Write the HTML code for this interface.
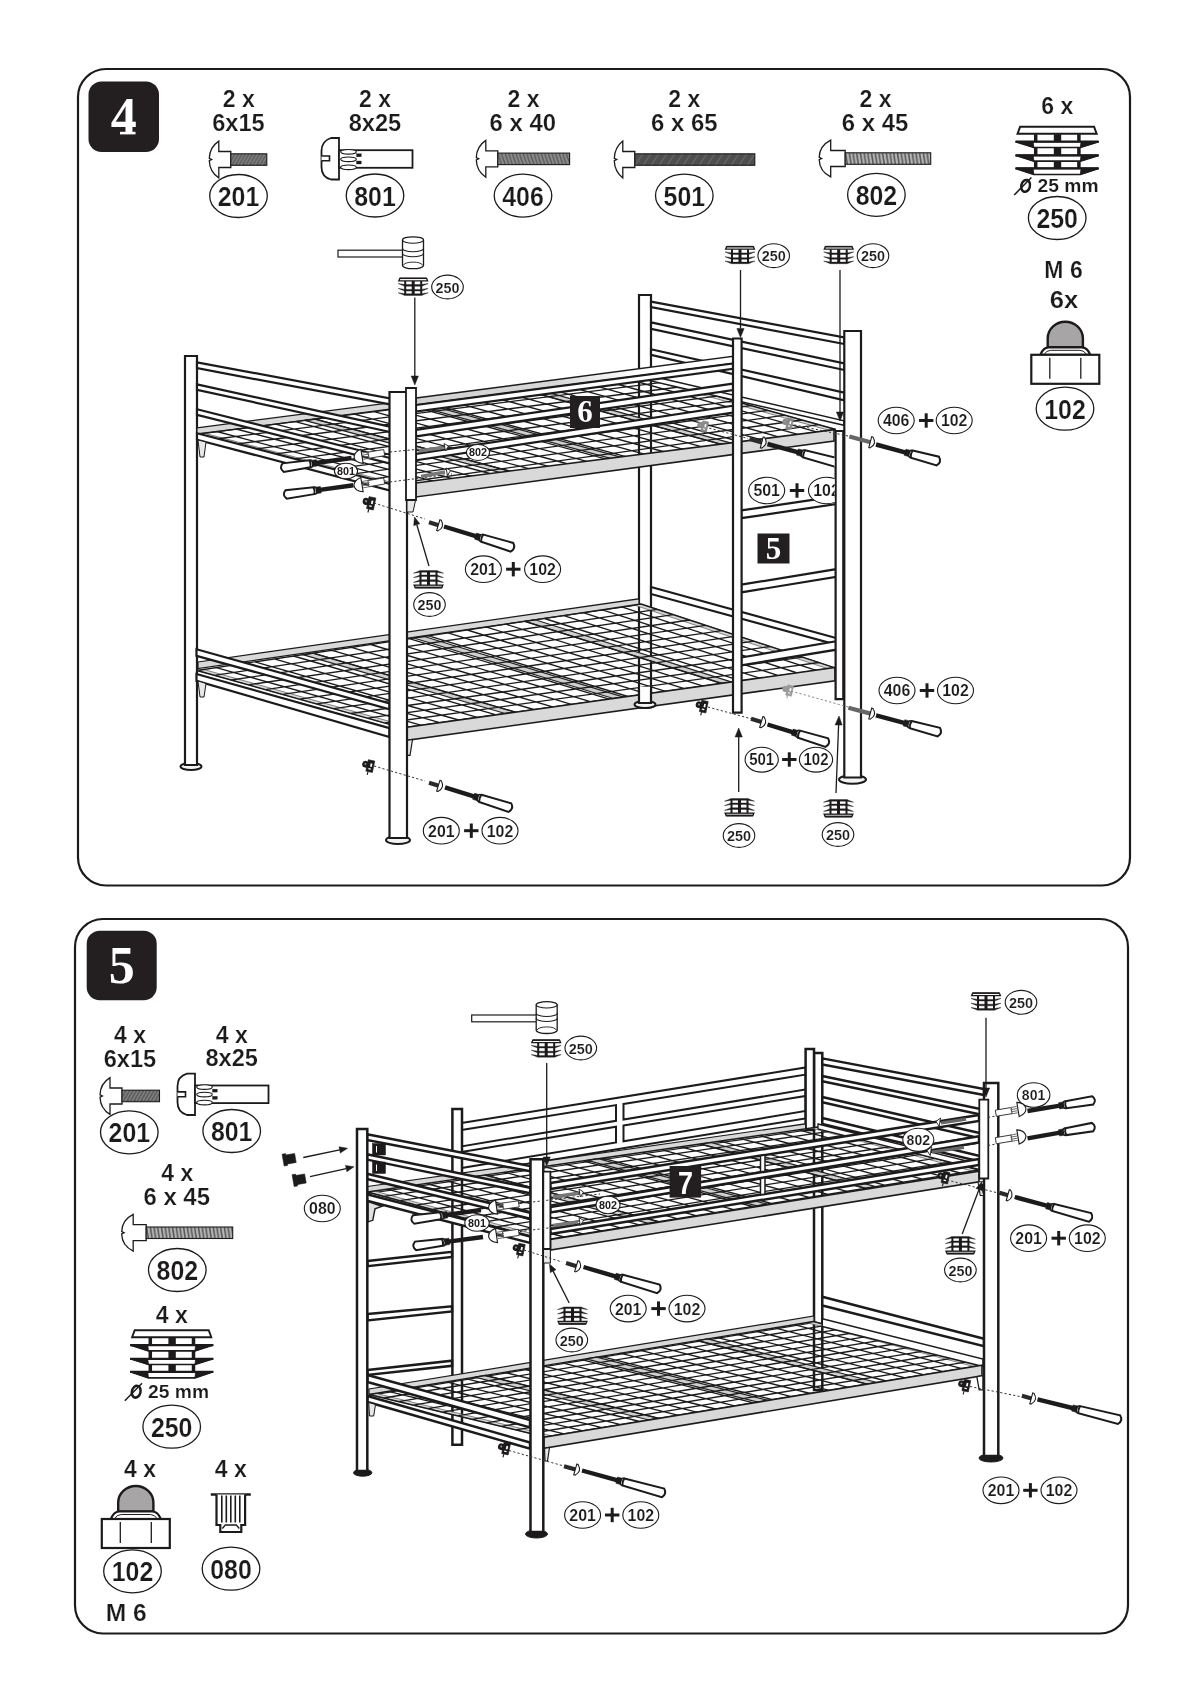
<!DOCTYPE html>
<html><head><meta charset="utf-8"><title>Assembly steps 4-5</title>
<style>html,body{margin:0;padding:0;background:#fff}svg{display:block;will-change:transform}</style>
</head><body>
<svg width="1200" height="1697" viewBox="0 0 1200 1697">
<rect width="1200" height="1697" fill="#fff"/>
<defs>
<pattern id="hatchA" width="7" height="12" patternUnits="userSpaceOnUse"><rect width="7" height="12" fill="#5e5e5e"/><path d="M-1 12L6 0M2.5 12L9.5 0M-4.5 12L2.5 0" stroke="#858585" stroke-width="1.2"/></pattern>
<pattern id="hatchB" width="7.2" height="12" patternUnits="userSpaceOnUse"><rect width="7.2" height="12" fill="#8a8a8a"/><path d="M0 0L4 12M3.6 0L7.6 12M-3.6 0L0.4 12" stroke="#555" stroke-width="1.2"/></pattern>
<pattern id="hatchC" width="16" height="12" patternUnits="userSpaceOnUse"><rect width="16" height="12" fill="#4e4e4e"/><path d="M0 12L8 0M8 12L16 0" stroke="#6a6a6a" stroke-width="1.2"/></pattern>
<pattern id="hatchD" width="3.7" height="12" patternUnits="userSpaceOnUse"><rect width="3.7" height="12" fill="#b4b4b4"/><path d="M0.4 0L2.2 12M4.1 0L5.9 12M-3.3 0L-1.5 12" stroke="#555" stroke-width="1.5"/></pattern>
</defs>
<rect x="78" y="69" width="1052" height="816.5" rx="28" fill="#fff" stroke="#1d1a1b" stroke-width="2.2" />
<rect x="88.5" y="81.5" width="70.5" height="70.5" rx="13" fill="#231f20" stroke="none" stroke-width="0" />
<text x="123.8" y="133.9" font-family="'Liberation Serif', sans-serif" font-size="52" font-weight="bold" text-anchor="middle" fill="#fff" >4</text>
<rect x="120" y="131.8" width="15.5" height="2.6" rx="0" fill="#fff" stroke="none" stroke-width="0" />
<text x="238.8" y="107.3" font-family="'Liberation Sans', sans-serif" font-size="23" font-weight="bold" text-anchor="middle" fill="#1d1a1b"  stroke="#fff" stroke-width="0.22">2 x</text>
<text x="238.5" y="131.3" font-family="'Liberation Sans', sans-serif" font-size="23" font-weight="bold" text-anchor="middle" fill="#1d1a1b" textLength="52.5" lengthAdjust="spacingAndGlyphs"  stroke="#fff" stroke-width="0.22">6x15</text>
<path d="M218.8 141.1 C212.8 145.1 209.5 150.5 209.3 158.3 l2.4 1.2 l-2.4 1.2 C209.5 168.5 212.8 173.9 218.8 177.9 L218.8 167.5 L230.8 167.5 L230.8 151.5 L218.8 151.5 Z" fill="#fff" stroke="#1d1a1b" stroke-width="1.3" stroke-linejoin="miter"/>
<g transform="translate(230.8 153.8)">
<rect x="0" y="0" width="36" height="11.5" rx="0" fill="url(#hatchA)" stroke="#1d1a1b" stroke-width="1.1" />
</g>
<ellipse cx="238.5" cy="196" rx="28.8" ry="21.5" fill="#fff" stroke="#1d1a1b" stroke-width="1.3" />
<text x="238.5" y="206" font-family="'Liberation Sans', sans-serif" font-size="28" font-weight="bold" text-anchor="middle" fill="#1d1a1b" textLength="41.5" lengthAdjust="spacingAndGlyphs"  stroke="#fff" stroke-width="0.22">201</text>
<text x="375" y="106.5" font-family="'Liberation Sans', sans-serif" font-size="23" font-weight="bold" text-anchor="middle" fill="#1d1a1b"  stroke="#fff" stroke-width="0.22">2 x</text>
<text x="375" y="130.5" font-family="'Liberation Sans', sans-serif" font-size="23" font-weight="bold" text-anchor="middle" fill="#1d1a1b" textLength="52.5" lengthAdjust="spacingAndGlyphs"  stroke="#fff" stroke-width="0.22">8x25</text>
<path d="M339 138 L331 138 Q321.5 141 321.5 151 L321.5 167 Q321.5 177 331 179.5 L339 179.5 Z" fill="#fff" stroke="#1d1a1b" stroke-width="1.8" />
<path d="M321.5 156 L329.5 156 L329.5 160.8 L321.5 160.8" fill="#fff" stroke="#1d1a1b" stroke-width="1.6" />
<rect x="339" y="150.2" width="73.5" height="17.6" rx="0" fill="#fff" stroke="#1d1a1b" stroke-width="1.8" />
<ellipse cx="348.5" cy="151.8" rx="7.8" ry="2.3" fill="#fff" stroke="#1d1a1b" stroke-width="1.1" />
<ellipse cx="348.5" cy="159.3" rx="7.8" ry="2.3" fill="#fff" stroke="#1d1a1b" stroke-width="1.1" />
<ellipse cx="348.5" cy="167.3" rx="7.8" ry="2.3" fill="#fff" stroke="#1d1a1b" stroke-width="1.1" />
<rect x="356.5" y="153.8" width="4.8" height="3" rx="0" fill="#1d1a1b" stroke="#1d1a1b" stroke-width="0.3" />
<rect x="356.5" y="161" width="4.8" height="3" rx="0" fill="#1d1a1b" stroke="#1d1a1b" stroke-width="0.3" />
<ellipse cx="375" cy="195.5" rx="28.8" ry="21.5" fill="#fff" stroke="#1d1a1b" stroke-width="1.3" />
<text x="375" y="205.5" font-family="'Liberation Sans', sans-serif" font-size="28" font-weight="bold" text-anchor="middle" fill="#1d1a1b" textLength="41.5" lengthAdjust="spacingAndGlyphs"  stroke="#fff" stroke-width="0.22">801</text>
<text x="523.6" y="106.5" font-family="'Liberation Sans', sans-serif" font-size="23" font-weight="bold" text-anchor="middle" fill="#1d1a1b"  stroke="#fff" stroke-width="0.22">2 x</text>
<text x="522.8" y="131" font-family="'Liberation Sans', sans-serif" font-size="23" font-weight="bold" text-anchor="middle" fill="#1d1a1b" textLength="66.5" lengthAdjust="spacingAndGlyphs"  stroke="#fff" stroke-width="0.22">6 x 40</text>
<path d="M485.8 140.4 C479.8 144.4 476.5 149.8 476.3 157.6 l2.4 1.2 l-2.4 1.2 C476.5 167.8 479.8 173.2 485.8 177.2 L485.8 166.8 L497.8 166.8 L497.8 150.8 L485.8 150.8 Z" fill="#fff" stroke="#1d1a1b" stroke-width="1.3" stroke-linejoin="miter"/>
<g transform="translate(497.8 153.1)">
<rect x="0" y="0" width="71.8" height="11.5" rx="0" fill="url(#hatchB)" stroke="#1d1a1b" stroke-width="1.1" />
</g>
<ellipse cx="523" cy="195.6" rx="28.8" ry="21.5" fill="#fff" stroke="#1d1a1b" stroke-width="1.3" />
<text x="523" y="205.6" font-family="'Liberation Sans', sans-serif" font-size="28" font-weight="bold" text-anchor="middle" fill="#1d1a1b" textLength="41.5" lengthAdjust="spacingAndGlyphs"  stroke="#fff" stroke-width="0.22">406</text>
<text x="684.3" y="106.5" font-family="'Liberation Sans', sans-serif" font-size="23" font-weight="bold" text-anchor="middle" fill="#1d1a1b"  stroke="#fff" stroke-width="0.22">2 x</text>
<text x="684.3" y="131" font-family="'Liberation Sans', sans-serif" font-size="23" font-weight="bold" text-anchor="middle" fill="#1d1a1b" textLength="66.5" lengthAdjust="spacingAndGlyphs"  stroke="#fff" stroke-width="0.22">6 x 65</text>
<path d="M622.8 141.1 C617.8 145.1 614.5 150.5 614.3 158.3 l2.4 1.2 l-2.4 1.2 C614.5 168.5 617.8 173.9 622.8 177.9 L622.8 167.5 L634.8 167.5 L634.8 151.5 L622.8 151.5 Z" fill="#fff" stroke="#1d1a1b" stroke-width="1.3" stroke-linejoin="miter"/>
<g transform="translate(634.8 153.8)">
<rect x="0" y="0" width="120" height="11.5" rx="0" fill="url(#hatchC)" stroke="#1d1a1b" stroke-width="1.1" />
</g>
<ellipse cx="684.3" cy="195.6" rx="28.8" ry="21.5" fill="#fff" stroke="#1d1a1b" stroke-width="1.3" />
<text x="684.3" y="205.6" font-family="'Liberation Sans', sans-serif" font-size="28" font-weight="bold" text-anchor="middle" fill="#1d1a1b" textLength="41.5" lengthAdjust="spacingAndGlyphs"  stroke="#fff" stroke-width="0.22">501</text>
<text x="875.6" y="106.8" font-family="'Liberation Sans', sans-serif" font-size="23" font-weight="bold" text-anchor="middle" fill="#1d1a1b"  stroke="#fff" stroke-width="0.22">2 x</text>
<text x="875" y="131" font-family="'Liberation Sans', sans-serif" font-size="23" font-weight="bold" text-anchor="middle" fill="#1d1a1b" textLength="66.5" lengthAdjust="spacingAndGlyphs"  stroke="#fff" stroke-width="0.22">6 x 45</text>
<path d="M830.7 140.1 C822.7 144.1 819.4 149.5 819.2 157.3 l2.4 1.2 l-2.4 1.2 C819.4 167.5 822.7 172.9 830.7 176.9 L830.7 166.5 L845.2 166.5 L845.2 150.5 L830.7 150.5 Z" fill="#fff" stroke="#1d1a1b" stroke-width="1.3" stroke-linejoin="miter"/>
<g transform="translate(845.2 152.8)">
<rect x="0" y="0" width="85.5" height="11.5" rx="0" fill="url(#hatchD)" stroke="#1d1a1b" stroke-width="1.1" />
</g>
<ellipse cx="876.4" cy="194.8" rx="28.8" ry="21.5" fill="#fff" stroke="#1d1a1b" stroke-width="1.3" />
<text x="876.4" y="204.8" font-family="'Liberation Sans', sans-serif" font-size="28" font-weight="bold" text-anchor="middle" fill="#1d1a1b" textLength="41.5" lengthAdjust="spacingAndGlyphs"  stroke="#fff" stroke-width="0.22">802</text>
<text x="1057.2" y="114" font-family="'Liberation Sans', sans-serif" font-size="23" font-weight="bold" text-anchor="middle" fill="#1d1a1b"  stroke="#fff" stroke-width="0.22">6 x</text>
<polygon points="1020.1,126.8 1094.1,126.8 1096.7,133.8 1017.5,133.8" fill="#fff" stroke="#1d1a1b" stroke-width="1.9" stroke-linejoin="miter" />
<line x1="1035.7" y1="134.2" x2="1035.7" y2="174.2" stroke="#1d1a1b" stroke-width="3.5" />
<line x1="1078.9" y1="134.2" x2="1078.9" y2="174.2" stroke="#1d1a1b" stroke-width="3.5" />
<line x1="1057.5" y1="134.2" x2="1057.5" y2="174.2" stroke="#1d1a1b" stroke-width="7.4" />
<polygon points="1015.6,141.7 1098.6,141.7 1080.3,147.5 1033.9,147.5" fill="#fff" stroke="#1d1a1b" stroke-width="1.6" stroke-linejoin="miter" />
<line x1="1015.6" y1="141.7" x2="1098.6" y2="141.7" stroke="#1d1a1b" stroke-width="2.2" />
<polygon points="1015.6,141.7 1033.1,141.7 1033.9,147.5" fill="#1d1a1b" stroke="#1d1a1b" stroke-width="0.8" stroke-linejoin="miter" />
<polygon points="1098.6,141.7 1081.1,141.7 1080.3,147.5" fill="#1d1a1b" stroke="#1d1a1b" stroke-width="0.8" stroke-linejoin="miter" />
<polygon points="1015.6,155.4 1098.6,155.4 1080.3,161.1 1033.9,161.1" fill="#fff" stroke="#1d1a1b" stroke-width="1.6" stroke-linejoin="miter" />
<line x1="1015.6" y1="155.4" x2="1098.6" y2="155.4" stroke="#1d1a1b" stroke-width="2.2" />
<polygon points="1015.6,155.4 1033.1,155.4 1033.9,161.1" fill="#1d1a1b" stroke="#1d1a1b" stroke-width="0.8" stroke-linejoin="miter" />
<polygon points="1098.6,155.4 1081.1,155.4 1080.3,161.1" fill="#1d1a1b" stroke="#1d1a1b" stroke-width="0.8" stroke-linejoin="miter" />
<polygon points="1015.6,168.4 1098.6,168.4 1080.3,174.5 1033.9,174.5" fill="#fff" stroke="#1d1a1b" stroke-width="1.6" stroke-linejoin="miter" />
<line x1="1015.6" y1="168.4" x2="1098.6" y2="168.4" stroke="#1d1a1b" stroke-width="2.2" />
<polygon points="1015.6,168.4 1033.1,168.4 1033.9,174.5" fill="#1d1a1b" stroke="#1d1a1b" stroke-width="0.8" stroke-linejoin="miter" />
<polygon points="1098.6,168.4 1081.1,168.4 1080.3,174.5" fill="#1d1a1b" stroke="#1d1a1b" stroke-width="0.8" stroke-linejoin="miter" />
<text x="1068" y="191.8" font-family="'Liberation Sans', sans-serif" font-size="17.8" font-weight="bold" text-anchor="middle" fill="#1d1a1b" textLength="61" lengthAdjust="spacingAndGlyphs"  stroke="#fff" stroke-width="0.15">25 mm</text>
<ellipse cx="1025.6" cy="185.9" rx="4.3" ry="6" fill="none" stroke="#1d1a1b" stroke-width="2.5" transform="rotate(14 1025.6 185.9)"/>
<line x1="1014.2" y1="195" x2="1031.4" y2="177.5" stroke="#1d1a1b" stroke-width="1.5" />
<ellipse cx="1057.2" cy="218" rx="28.8" ry="21.5" fill="#fff" stroke="#1d1a1b" stroke-width="1.3" />
<text x="1057.2" y="228" font-family="'Liberation Sans', sans-serif" font-size="28" font-weight="bold" text-anchor="middle" fill="#1d1a1b" textLength="41.5" lengthAdjust="spacingAndGlyphs"  stroke="#fff" stroke-width="0.22">250</text>
<text x="1063.5" y="277.5" font-family="'Liberation Sans', sans-serif" font-size="23" font-weight="bold" text-anchor="middle" fill="#1d1a1b"  stroke="#fff" stroke-width="0.22">M 6</text>
<text x="1064" y="307.5" font-family="'Liberation Sans', sans-serif" font-size="23" font-weight="bold" text-anchor="middle" fill="#1d1a1b" textLength="28.5" lengthAdjust="spacingAndGlyphs"  stroke="#fff" stroke-width="0.22">6x</text>
<path d="M1047.7 347.3 L1047.7 338.3 A17.6 16.5 0 0 1 1082.9 338.3 L1082.9 347.3 Z" fill="#a7a5a6" stroke="#1d1a1b" stroke-width="2.4" />
<path d="M1040.3 354.8 Q1043.3 347.3 1048.7 347.3 L1081.9 347.3 Q1087.3 347.3 1090.3 354.8 Z" fill="#fff" stroke="#1d1a1b" stroke-width="2.2" />
<path d="M1043.8 354.8 Q1046.3 350.3 1050.7 350.3 L1079.9 350.3 Q1084.3 350.3 1086.8 354.8" fill="none" stroke="#1d1a1b" stroke-width="1.0" />
<rect x="1031.3" y="354.8" width="68" height="29" rx="0" fill="#fff" stroke="#1d1a1b" stroke-width="2.2" />
<line x1="1049.8" y1="357.8" x2="1049.8" y2="378.8" stroke="#1d1a1b" stroke-width="1.3" />
<line x1="1080.8" y1="357.8" x2="1080.8" y2="378.8" stroke="#1d1a1b" stroke-width="1.3" />
<ellipse cx="1065" cy="408.7" rx="28.8" ry="21.5" fill="#fff" stroke="#1d1a1b" stroke-width="1.3" />
<text x="1065" y="418.7" font-family="'Liberation Sans', sans-serif" font-size="28" font-weight="bold" text-anchor="middle" fill="#1d1a1b" textLength="41.5" lengthAdjust="spacingAndGlyphs"  stroke="#fff" stroke-width="0.22">102</text>
<ellipse cx="645" cy="704.5" rx="10.5" ry="3.6" fill="#f4f4f4" stroke="#1d1a1b" stroke-width="2.0" />
<polygon points="639,703 639,295 651,295 651,703" fill="#fff" stroke="#1d1a1b" stroke-width="2.2" stroke-linejoin="miter" />
<polygon points="651,301.7 844.3,337.4 844.3,344 651,307.2" fill="#fff" stroke="#1d1a1b" stroke-width="2.2" stroke-linejoin="miter" />
<polygon points="651,322.3 844.3,363.4 844.3,370 651,328.8" fill="#fff" stroke="#1d1a1b" stroke-width="2.2" stroke-linejoin="miter" />
<polygon points="651,349.3 844.3,392.7 844.3,400.3 651,354.8" fill="#fff" stroke="#1d1a1b" stroke-width="2.2" stroke-linejoin="miter" />
<polygon points="651,587 836,638 836,644.5 651,594" fill="#fff" stroke="#1d1a1b" stroke-width="2.2" stroke-linejoin="miter" />
<ellipse cx="191" cy="766.5" rx="10.5" ry="3.6" fill="#f4f4f4" stroke="#1d1a1b" stroke-width="2.0" />
<polygon points="185,765 185,356 197,356 197,765" fill="#fff" stroke="#1d1a1b" stroke-width="2.2" stroke-linejoin="miter" />
<polygon points="197,427.8 639,370.6 639,376.6 197,434.3" fill="#d9d9d9" stroke="#1d1a1b" stroke-width="1.2" stroke-linejoin="miter" />
<g >
<polygon points="197,434 408,489.5 414.9,488.6 203.9,433.1" fill="#d6d6d6" stroke="#555" stroke-width="0.7" stroke-linejoin="miter" />
<polygon points="649,377 836,429.5 829.1,430.4 642.1,377.9" fill="#d6d6d6" stroke="#555" stroke-width="0.7" stroke-linejoin="miter" />
<polygon points="304.6,420.4 315.4,419.1 520.1,473.8 509.9,475.2" fill="#cfcfcf" stroke="#222" stroke-width="1.2" stroke-linejoin="miter" />
<polygon points="417.6,406.2 428.4,404.8 627.1,458.8 616.9,460.2" fill="#cfcfcf" stroke="#222" stroke-width="1.2" stroke-linejoin="miter" />
<polygon points="530.6,391.9 541.4,390.6 734.1,443.8 723.9,445.2" fill="#cfcfcf" stroke="#222" stroke-width="1.2" stroke-linejoin="miter" />
<path d="M197 434L408 489.5M216.7 431.5L426.6 486.9M236.3 429L445.2 484.3M256 426.6L463.8 481.7M275.6 424.1L482.4 479.1M295.3 421.6L501 476.5M314.9 419.1L519.7 473.8M334.6 416.7L538.3 471.2M354.2 414.2L556.9 468.6M373.9 411.7L575.5 466M393.5 409.2L594.1 463.4M413.2 406.7L612.7 460.8M432.8 404.3L631.3 458.2M452.5 401.8L649.9 455.6M472.1 399.3L668.5 453M491.8 396.8L687.1 450.4M511.4 394.3L705.7 447.8M531.1 391.9L724.3 445.2M550.7 389.4L743 442.5M570.4 386.9L761.6 439.9M590 384.4L780.2 437.3M609.7 382L798.8 434.7M629.3 379.5L817.4 432.1M649 377L836 429.5M197 434L649 377M216.2 439L666 381.8M235.4 444.1L683 386.5M254.5 449.1L700 391.3M273.7 454.2L717 396.1M292.9 459.2L734 400.9M312.1 464.3L751 405.6M331.3 469.3L768 410.4M350.5 474.4L785 415.2M369.6 479.4L802 420M388.8 484.5L819 424.7M408 489.5L836 429.5" fill="none" stroke="#1c1c1c" stroke-width="1.35" />
</g>
<polygon points="649,375.5 844,420.8 844,425.3 649,380.5" fill="#fff" stroke="#1d1a1b" stroke-width="1.4" stroke-linejoin="miter" />
<polygon points="197,431 240,425.5 408,479 408,489.5" fill="#d9d9d9" stroke="none" stroke-width="0" stroke-linejoin="miter" opacity="0"/>
<polygon points="198,662 639,598.8 639,604.8 198,668.5" fill="#d9d9d9" stroke="#1d1a1b" stroke-width="1.2" stroke-linejoin="miter" />
<g >
<polygon points="197,670.5 402,727.8 408.9,726.8 203.9,669.5" fill="#d6d6d6" stroke="#555" stroke-width="0.7" stroke-linejoin="miter" />
<polygon points="641,604 835,667.8 828.1,668.8 634.1,605" fill="#d6d6d6" stroke="#555" stroke-width="0.7" stroke-linejoin="miter" />
<polygon points="302.7,654.7 313.3,653.1 515.4,712.1 505.1,713.5" fill="#cfcfcf" stroke="#222" stroke-width="1.2" stroke-linejoin="miter" />
<polygon points="413.7,638 424.3,636.5 623.7,697.1 613.3,698.5" fill="#cfcfcf" stroke="#222" stroke-width="1.2" stroke-linejoin="miter" />
<polygon points="524.7,621.4 535.3,619.8 731.9,682.1 721.6,683.5" fill="#cfcfcf" stroke="#222" stroke-width="1.2" stroke-linejoin="miter" />
<path d="M197 670.5L402 727.8M216.3 667.6L420.8 725.2M235.6 664.7L439.7 722.6M254.9 661.8L458.5 720M274.2 658.9L477.3 717.4M293.5 656L496.1 714.8M312.8 653.2L515 712.1M332.1 650.3L533.8 709.5M351.4 647.4L552.6 706.9M370.7 644.5L571.4 704.3M390 641.6L590.3 701.7M409.3 638.7L609.1 699.1M428.7 635.8L627.9 696.5M448 632.9L646.7 693.9M467.3 630L665.6 691.3M486.6 627.1L684.4 688.7M505.9 624.2L703.2 686.1M525.2 621.3L722 683.5M544.5 618.5L740.9 680.8M563.8 615.6L759.7 678.2M583.1 612.7L778.5 675.6M602.4 609.8L797.3 673M621.7 606.9L816.2 670.4M641 604L835 667.8M197 670.5L641 604M214.1 675.3L657.2 609.3M231.2 680L673.3 614.6M248.2 684.8L689.5 620M265.3 689.6L705.7 625.3M282.4 694.4L721.8 630.6M299.5 699.1L738 635.9M316.6 703.9L754.2 641.2M333.7 708.7L770.3 646.5M350.8 713.5L786.5 651.8M367.8 718.2L802.7 657.2M384.9 723L818.8 662.5M402 727.8L835 667.8" fill="none" stroke="#1c1c1c" stroke-width="1.35" />
</g>
<polygon points="196.5,649.3 389.5,703.4 389.5,709.2 196.5,655.8" fill="#fff" stroke="#1d1a1b" stroke-width="2.2" stroke-linejoin="miter" />
<polygon points="196.5,674 389.5,728.2 389.5,737 196.5,680.8" fill="#fff" stroke="#1d1a1b" stroke-width="2.2" stroke-linejoin="miter" />
<polygon points="198,681 206,683.5 204,697 200,697" fill="#e8e8e8" stroke="#1d1a1b" stroke-width="1" stroke-linejoin="miter" />
<polygon points="407,727.3 835,667.5 835,680.8 407,740.3" fill="#d9d9d9" stroke="#1d1a1b" stroke-width="1.6" stroke-linejoin="miter" />
<polygon points="407,740.3 412.5,739.5 410,755.3 407.5,755.3" fill="#e8e8e8" stroke="#1d1a1b" stroke-width="1.2" stroke-linejoin="miter" />
<ellipse cx="645" cy="704.5" rx="10.5" ry="3.6" fill="#f4f4f4" stroke="#1d1a1b" stroke-width="2.0" />
<polygon points="639,703 639,688 651,688 651,703" fill="#fff" stroke="#1d1a1b" stroke-width="2.2" stroke-linejoin="miter" />
<line x1="640" y1="688" x2="650" y2="688" stroke="#fff" stroke-width="2.6" />
<polygon points="197,362.3 390,398.5 390,404.4 197,368.2" fill="#fff" stroke="#1d1a1b" stroke-width="2.2" stroke-linejoin="miter" />
<polygon points="197,384.4 390,426.7 390,432 197,389.8" fill="#fff" stroke="#1d1a1b" stroke-width="2.2" stroke-linejoin="miter" />
<polygon points="197,409.3 390,458 390,463.5 197,414.8" fill="#fff" stroke="#1d1a1b" stroke-width="2.2" stroke-linejoin="miter" />
<polygon points="197,433.2 390,484 390,490.6 197,439.7" fill="#fff" stroke="#1d1a1b" stroke-width="2.2" stroke-linejoin="miter" />
<polygon points="198,440 206,442 204,457 200,457" fill="#e8e8e8" stroke="#1d1a1b" stroke-width="1" stroke-linejoin="miter" />
<polygon points="416,483 834,429.7 834,441 416,497" fill="#d9d9d9" stroke="#1d1a1b" stroke-width="1.5" stroke-linejoin="miter" />
<defs><linearGradient id="gfade" x1="0" x2="1" y1="0" y2="0"><stop offset="0" stop-color="#d0d0d0"/><stop offset="0.45" stop-color="#d8d8d8"/><stop offset="0.7" stop-color="#fff"/></linearGradient></defs>
<polygon points="416,398.1 733,356.3 733,363.4 416,405" fill="url(#gfade)" stroke="#1d1a1b" stroke-width="1.5" stroke-linejoin="miter" />
<polygon points="416,405 733,363.4 733,368.8 416,411.5" fill="#fff" stroke="#1d1a1b" stroke-width="2.2" stroke-linejoin="miter" />
<polygon points="416,429.9 733,383.6 733,390 416,436.4" fill="#fff" stroke="#1d1a1b" stroke-width="2.2" stroke-linejoin="miter" />
<polygon points="416,453.8 733,405.7 733,412.6 416,460.3" fill="#fff" stroke="#1d1a1b" stroke-width="2.2" stroke-linejoin="miter" />
<ellipse cx="398" cy="840" rx="12" ry="4.1" fill="#f4f4f4" stroke="#1d1a1b" stroke-width="2.0" />
<polygon points="389.5,838 389.5,392 407,392 407,838" fill="#fff" stroke="#1d1a1b" stroke-width="2.2" stroke-linejoin="miter" />
<polygon points="406,500 406,388 416,388 416,500" fill="#fff" stroke="#1d1a1b" stroke-width="1.8" stroke-linejoin="miter" />
<polygon points="407,500.5 415.5,500.5 413,512 407,512" fill="#e8e8e8" stroke="#1d1a1b" stroke-width="1" stroke-linejoin="miter" />
<polygon points="741.2,510.4 836.3,496.3 836.3,504 741.2,518.2" fill="#fff" stroke="#1d1a1b" stroke-width="2.2" stroke-linejoin="miter" />
<polygon points="741.2,584.7 836.3,569.1 836.3,576.9 741.2,592.4" fill="#fff" stroke="#1d1a1b" stroke-width="2.2" stroke-linejoin="miter" />
<polygon points="741.2,657.5 836.3,641.2 836.3,649.7 741.2,665.3" fill="#fff" stroke="#1d1a1b" stroke-width="2.2" stroke-linejoin="miter" />
<polygon points="733,712.7 733,338.5 741.6,338.5 741.6,712.7" fill="#fff" stroke="#1d1a1b" stroke-width="2.2" stroke-linejoin="miter" />
<polygon points="835.6,699.2 835.6,431 843.3,431 843.3,699.2" fill="#fff" stroke="#1d1a1b" stroke-width="2.2" stroke-linejoin="miter" />
<ellipse cx="852.5" cy="779.5" rx="13.5" ry="4.3" fill="#f4f4f4" stroke="#1d1a1b" stroke-width="2.0" />
<polygon points="844.3,777.5 844.3,331 861,331 861,777.5" fill="#fff" stroke="#1d1a1b" stroke-width="2.2" stroke-linejoin="miter" />
<rect x="570" y="396" width="30" height="32" rx="0" fill="#231f20" stroke="none" stroke-width="0" />
<text x="585" y="422.2" font-family="'Liberation Serif', sans-serif" font-size="31" font-weight="bold" text-anchor="middle" fill="#fff" >6</text>
<rect x="757.5" y="533.5" width="32" height="30" rx="0" fill="#231f20" stroke="none" stroke-width="0" />
<text x="773.5" y="558.7" font-family="'Liberation Serif', sans-serif" font-size="31" font-weight="bold" text-anchor="middle" fill="#fff" >5</text>
<rect x="338" y="250.2" width="66" height="6.8" rx="0" fill="#fff" stroke="#1d1a1b" stroke-width="1.2" />
<path d="M402.5 240 L402.5 265.5 A10.5 3.2 0 0 0 423.5 265.5 L423.5 240 A10.5 3.2 0 0 0 402.5 240 Z" fill="#fff" stroke="#1d1a1b" stroke-width="1.3" />
<path d="M402.5 240 A10.5 3.2 0 0 0 423.5 240" fill="none" stroke="#1d1a1b" stroke-width="1.1" />
<path d="M402.5 248.5 A10.5 3.2 0 0 0 423.5 248.5" fill="none" stroke="#1d1a1b" stroke-width="1.1" />
<path d="M402.5 253.5 A10.5 3.2 0 0 0 423.5 253.5" fill="none" stroke="#1d1a1b" stroke-width="1.1" />
<path d="M403.5 265.3 A9.5 3.2 0 0 1 422.5 265.3" fill="none" stroke="#1d1a1b" stroke-width="0.9" />
<polygon points="399.8,278.4 426.6,278.4 427.6,280.9 398.8,280.9" fill="#fff" stroke="#1d1a1b" stroke-width="1.3" stroke-linejoin="miter" />
<line x1="399.8" y1="278.3" x2="426.6" y2="278.3" stroke="#1d1a1b" stroke-width="1.5" />
<line x1="405.2" y1="281" x2="405.2" y2="294.6" stroke="#1d1a1b" stroke-width="2.0" />
<line x1="421.2" y1="281" x2="421.2" y2="294.6" stroke="#1d1a1b" stroke-width="2.0" />
<line x1="413.2" y1="281" x2="413.2" y2="294.6" stroke="#1d1a1b" stroke-width="3.0" />
<path d="M398.2 283.6 Q402.2 284 404.7 284.6 L421.7 284.6 Q424.2 284 428.2 283.6 Q424.2 285.2 421.7 286.2 L404.7 286.2 Q402.2 285.2 398.2 283.6 Z" fill="#1d1a1b" stroke="#1d1a1b" stroke-width="0.4" />
<path d="M398.2 288.4 Q402.2 288.8 404.7 289.4 L421.7 289.4 Q424.2 288.8 428.2 288.4 Q424.2 290 421.7 291 L404.7 291 Q402.2 290 398.2 288.4 Z" fill="#1d1a1b" stroke="#1d1a1b" stroke-width="0.4" />
<path d="M398.2 292.8 Q402.2 293.2 404.7 293.8 L421.7 293.8 Q424.2 293.2 428.2 292.8 Q424.2 294.4 421.7 295.4 L404.7 295.4 Q402.2 294.4 398.2 292.8 Z" fill="#1d1a1b" stroke="#1d1a1b" stroke-width="0.4" />
<ellipse cx="447.5" cy="287" rx="15.8" ry="11.9" fill="#fff" stroke="#1d1a1b" stroke-width="1.1" />
<text x="447.5" y="292.5" font-family="'Liberation Sans', sans-serif" font-size="15.4" font-weight="bold" text-anchor="middle" fill="#1d1a1b" textLength="24" lengthAdjust="spacingAndGlyphs"  stroke="#fff" stroke-width="0.15">250</text>
<line x1="414.8" y1="297.5" x2="414.8" y2="376" stroke="#1d1a1b" stroke-width="1.3" />
<polygon points="414.8,385 411.2,376 418.4,376" fill="#1d1a1b" stroke="#1d1a1b" stroke-width="0.5" stroke-linejoin="miter" />
<polygon points="726.6,246.7 753.4,246.7 754.4,249.2 725.6,249.2" fill="#fff" stroke="#1d1a1b" stroke-width="1.3" stroke-linejoin="miter" />
<line x1="726.6" y1="246.6" x2="753.4" y2="246.6" stroke="#1d1a1b" stroke-width="1.5" />
<line x1="732" y1="249.3" x2="732" y2="262.9" stroke="#1d1a1b" stroke-width="2.0" />
<line x1="748" y1="249.3" x2="748" y2="262.9" stroke="#1d1a1b" stroke-width="2.0" />
<line x1="740" y1="249.3" x2="740" y2="262.9" stroke="#1d1a1b" stroke-width="3.0" />
<path d="M725 251.9 Q729 252.3 731.5 252.9 L748.5 252.9 Q751 252.3 755 251.9 Q751 253.5 748.5 254.5 L731.5 254.5 Q729 253.5 725 251.9 Z" fill="#1d1a1b" stroke="#1d1a1b" stroke-width="0.4" />
<path d="M725 256.7 Q729 257.1 731.5 257.7 L748.5 257.7 Q751 257.1 755 256.7 Q751 258.3 748.5 259.3 L731.5 259.3 Q729 258.3 725 256.7 Z" fill="#1d1a1b" stroke="#1d1a1b" stroke-width="0.4" />
<path d="M725 261.1 Q729 261.5 731.5 262.1 L748.5 262.1 Q751 261.5 755 261.1 Q751 262.7 748.5 263.7 L731.5 263.7 Q729 262.7 725 261.1 Z" fill="#1d1a1b" stroke="#1d1a1b" stroke-width="0.4" />
<ellipse cx="773.7" cy="255.7" rx="15.8" ry="11.9" fill="#fff" stroke="#1d1a1b" stroke-width="1.1" />
<text x="773.7" y="261.2" font-family="'Liberation Sans', sans-serif" font-size="15.4" font-weight="bold" text-anchor="middle" fill="#1d1a1b" textLength="24" lengthAdjust="spacingAndGlyphs"  stroke="#fff" stroke-width="0.15">250</text>
<line x1="740.5" y1="270" x2="740.5" y2="328.5" stroke="#1d1a1b" stroke-width="1.3" />
<polygon points="740.5,337.5 736.9,328.5 744.1,328.5" fill="#1d1a1b" stroke="#1d1a1b" stroke-width="0.5" stroke-linejoin="miter" />
<polygon points="825.3,246.7 852.1,246.7 853.1,249.2 824.3,249.2" fill="#fff" stroke="#1d1a1b" stroke-width="1.3" stroke-linejoin="miter" />
<line x1="825.3" y1="246.6" x2="852.1" y2="246.6" stroke="#1d1a1b" stroke-width="1.5" />
<line x1="830.7" y1="249.3" x2="830.7" y2="262.9" stroke="#1d1a1b" stroke-width="2.0" />
<line x1="846.7" y1="249.3" x2="846.7" y2="262.9" stroke="#1d1a1b" stroke-width="2.0" />
<line x1="838.7" y1="249.3" x2="838.7" y2="262.9" stroke="#1d1a1b" stroke-width="3.0" />
<path d="M823.7 251.9 Q827.7 252.3 830.2 252.9 L847.2 252.9 Q849.7 252.3 853.7 251.9 Q849.7 253.5 847.2 254.5 L830.2 254.5 Q827.7 253.5 823.7 251.9 Z" fill="#1d1a1b" stroke="#1d1a1b" stroke-width="0.4" />
<path d="M823.7 256.7 Q827.7 257.1 830.2 257.7 L847.2 257.7 Q849.7 257.1 853.7 256.7 Q849.7 258.3 847.2 259.3 L830.2 259.3 Q827.7 258.3 823.7 256.7 Z" fill="#1d1a1b" stroke="#1d1a1b" stroke-width="0.4" />
<path d="M823.7 261.1 Q827.7 261.5 830.2 262.1 L847.2 262.1 Q849.7 261.5 853.7 261.1 Q849.7 262.7 847.2 263.7 L830.2 263.7 Q827.7 262.7 823.7 261.1 Z" fill="#1d1a1b" stroke="#1d1a1b" stroke-width="0.4" />
<ellipse cx="873" cy="255.7" rx="15.8" ry="11.9" fill="#fff" stroke="#1d1a1b" stroke-width="1.1" />
<text x="873" y="261.2" font-family="'Liberation Sans', sans-serif" font-size="15.4" font-weight="bold" text-anchor="middle" fill="#1d1a1b" textLength="24" lengthAdjust="spacingAndGlyphs"  stroke="#fff" stroke-width="0.15">250</text>
<line x1="840" y1="270" x2="840" y2="412" stroke="#1d1a1b" stroke-width="1.3" />
<polygon points="840,421 836.4,412 843.6,412" fill="#1d1a1b" stroke="#1d1a1b" stroke-width="0.5" stroke-linejoin="miter" />
<ellipse cx="896.2" cy="420.5" rx="18" ry="13.3" fill="#fff" stroke="#1d1a1b" stroke-width="1.1" />
<text x="896.2" y="426.4" font-family="'Liberation Sans', sans-serif" font-size="16.7" font-weight="bold" text-anchor="middle" fill="#1d1a1b" textLength="26.5" lengthAdjust="spacingAndGlyphs"  stroke="#fff" stroke-width="0.15">406</text>
<line x1="919" y1="420.5" x2="933.4" y2="420.5" stroke="#1d1a1b" stroke-width="3" />
<line x1="926.2" y1="413.3" x2="926.2" y2="427.7" stroke="#1d1a1b" stroke-width="3" />
<ellipse cx="954.2" cy="420.5" rx="18" ry="13.3" fill="#fff" stroke="#1d1a1b" stroke-width="1.1" />
<text x="954.2" y="426.4" font-family="'Liberation Sans', sans-serif" font-size="16.7" font-weight="bold" text-anchor="middle" fill="#1d1a1b" textLength="26.5" lengthAdjust="spacingAndGlyphs"  stroke="#fff" stroke-width="0.15">102</text>
<line x1="790" y1="424" x2="848" y2="436" stroke="#333" stroke-width="1.0" stroke-dasharray="2.2 2.2"/>
<g transform="translate(788 423) rotate(12) scale(0.9)">
<circle cx="-3.1" cy="-0.6" r="3.4" fill="#8a8a8a"/>
<circle cx="-3.3" cy="-0.8" r="1.0" fill="#9a9a9a"/>
<rect x="-1.4" y="-5.6" width="6.6" height="11.6" rx="0" fill="#8a8a8a" stroke="#8a8a8a" stroke-width="0.6" />
<rect x="1.7" y="-2.6" width="1.7" height="3.3" rx="0" fill="#fff" stroke="none" stroke-width="0" />
<rect x="0.5" y="2.4" width="2.5" height="1.2" rx="0" fill="#fff" stroke="none" stroke-width="0" />
<line x1="0.8" y1="6" x2="0.6" y2="9.4" stroke="#8a8a8a" stroke-width="1.1" />
</g>
<g transform="translate(872 442.6) rotate(15)">
<line x1="-23.5" y1="0" x2="-1.5" y2="0" stroke="#666" stroke-width="4.2" />
<path d="M-1.8 -5.6 L-0.5 -5.6 Q5.5 0 -0.5 5.6 L-1.8 5.6 Z" fill="#fff" stroke="#1d1a1b" stroke-width="1.1" />
</g>
<g transform="translate(876 444.5) rotate(15)">
<line x1="0" y1="0" x2="31" y2="0" stroke="#1d1a1b" stroke-width="4.4" />
<rect x="30" y="-3.2" width="5.5" height="6.4" rx="0" fill="#1d1a1b" stroke="#1d1a1b" stroke-width="0.5" />
<ellipse cx="36" cy="0" rx="1.8" ry="3.6" fill="#fff" stroke="#1d1a1b" stroke-width="1.5" />
<path d="M37 -3.7 L64 -4.5 Q68.5 0 64 4.5 L37 3.7 Q35.5 0 37 -3.7 Z" fill="#fff" stroke="#1d1a1b" stroke-width="2" />
</g>
<clipPath id="c501"><rect x="700" y="460" width="134.7" height="60"/></clipPath>
<g clip-path="url(#c501)">
<ellipse cx="766.7" cy="490.5" rx="18" ry="13.3" fill="#fff" stroke="#1d1a1b" stroke-width="1.1" />
<text x="766.7" y="496.4" font-family="'Liberation Sans', sans-serif" font-size="16.7" font-weight="bold" text-anchor="middle" fill="#1d1a1b" textLength="26.5" lengthAdjust="spacingAndGlyphs"  stroke="#fff" stroke-width="0.15">501</text>
<line x1="789.8" y1="490.5" x2="804.2" y2="490.5" stroke="#1d1a1b" stroke-width="3" />
<line x1="797" y1="483.3" x2="797" y2="497.7" stroke="#1d1a1b" stroke-width="3" />
<ellipse cx="826.5" cy="490.5" rx="18" ry="13.3" fill="#fff" stroke="#1d1a1b" stroke-width="1.1" />
<text x="826.5" y="496.4" font-family="'Liberation Sans', sans-serif" font-size="16.7" font-weight="bold" text-anchor="middle" fill="#1d1a1b" textLength="26.5" lengthAdjust="spacingAndGlyphs"  stroke="#fff" stroke-width="0.15">102</text>
</g>
<line x1="705" y1="427" x2="748" y2="438.5" stroke="#333" stroke-width="1.0" stroke-dasharray="2.2 2.2"/>
<g transform="translate(703 426) rotate(12) scale(0.9)">
<circle cx="-3.1" cy="-0.6" r="3.4" fill="#8a8a8a"/>
<circle cx="-3.3" cy="-0.8" r="1.0" fill="#9a9a9a"/>
<rect x="-1.4" y="-5.6" width="6.6" height="11.6" rx="0" fill="#8a8a8a" stroke="#8a8a8a" stroke-width="0.6" />
<rect x="1.7" y="-2.6" width="1.7" height="3.3" rx="0" fill="#fff" stroke="none" stroke-width="0" />
<rect x="0.5" y="2.4" width="2.5" height="1.2" rx="0" fill="#fff" stroke="none" stroke-width="0" />
<line x1="0.8" y1="6" x2="0.6" y2="9.4" stroke="#8a8a8a" stroke-width="1.1" />
</g>
<g transform="translate(763.5 442.8) rotate(15)">
<line x1="-14.5" y1="0" x2="-1.5" y2="0" stroke="#2a2a2a" stroke-width="4.2" />
<path d="M-1.8 -5.6 L-0.5 -5.6 Q5.5 0 -0.5 5.6 L-1.8 5.6 Z" fill="#fff" stroke="#1d1a1b" stroke-width="1.1" />
</g>
<clipPath id="cdrv"><rect x="700" y="420" width="134.5" height="60"/></clipPath><g clip-path="url(#cdrv)">
<g transform="translate(767.5 444) rotate(15)">
<line x1="0" y1="0" x2="32" y2="0" stroke="#1d1a1b" stroke-width="4.4" />
<rect x="31" y="-3.2" width="5.5" height="6.4" rx="0" fill="#1d1a1b" stroke="#1d1a1b" stroke-width="0.5" />
<ellipse cx="37" cy="0" rx="1.8" ry="3.6" fill="#fff" stroke="#1d1a1b" stroke-width="1.5" />
<path d="M38 -3.7 L71 -4.5 Q75.5 0 71 4.5 L38 3.7 Q36.5 0 38 -3.7 Z" fill="#fff" stroke="#1d1a1b" stroke-width="2" />
</g>
</g>
<ellipse cx="346" cy="471" rx="11.6" ry="7.8" fill="#fff" stroke="#1d1a1b" stroke-width="1.1" />
<text x="346" y="474.7" font-family="'Liberation Sans', sans-serif" font-size="10.5" font-weight="bold" text-anchor="middle" fill="#1d1a1b" textLength="18" lengthAdjust="spacingAndGlyphs" >801</text>
<ellipse cx="478" cy="452.5" rx="11.6" ry="8" fill="#fff" stroke="#1d1a1b" stroke-width="1.1" />
<text x="478" y="456.2" font-family="'Liberation Sans', sans-serif" font-size="10.5" font-weight="bold" text-anchor="middle" fill="#1d1a1b" textLength="18" lengthAdjust="spacingAndGlyphs" >802</text>
<g transform="translate(351.5 458) rotate(172)">
<line x1="0" y1="0" x2="36" y2="0" stroke="#1d1a1b" stroke-width="4.4" />
<rect x="35" y="-3.2" width="5.5" height="6.4" rx="0" fill="#1d1a1b" stroke="#1d1a1b" stroke-width="0.5" />
<ellipse cx="41" cy="0" rx="1.8" ry="3.6" fill="#fff" stroke="#1d1a1b" stroke-width="1.5" />
<path d="M42 -3.5 L69 -4.3 Q73.5 0 69 4.3 L42 3.5 Q40.5 0 42 -3.5 Z" fill="#fff" stroke="#1d1a1b" stroke-width="2" />
</g>
<g transform="translate(353.5 485.3) rotate(172.3)">
<line x1="0" y1="0" x2="34" y2="0" stroke="#1d1a1b" stroke-width="4.4" />
<rect x="33" y="-3.2" width="5.5" height="6.4" rx="0" fill="#1d1a1b" stroke="#1d1a1b" stroke-width="0.5" />
<ellipse cx="39" cy="0" rx="1.8" ry="3.6" fill="#fff" stroke="#1d1a1b" stroke-width="1.5" />
<path d="M40 -3.5 L68 -4.3 Q72.5 0 68 4.3 L40 3.5 Q38.5 0 40 -3.5 Z" fill="#fff" stroke="#1d1a1b" stroke-width="2" />
</g>
<g transform="translate(362 456.3) rotate(-9.5)">
<rect x="6.5" y="-3.1" width="16" height="6.2" rx="0" fill="#fff" stroke="#333" stroke-width="0.9" />
<line x1="0.8" y1="-3.2" x2="7.5" y2="-3.2" stroke="#666" stroke-width="0.9" />
<line x1="0.8" y1="-1.1" x2="7.5" y2="-1.1" stroke="#666" stroke-width="0.9" />
<line x1="0.8" y1="1.1" x2="7.5" y2="1.1" stroke="#666" stroke-width="0.9" />
<line x1="0.8" y1="3.2" x2="7.5" y2="3.2" stroke="#666" stroke-width="0.9" />
<path d="M0 -7.2 Q-7.5 -5.4 -8 0 Q-7.5 5.4 0 7.2 Z" fill="#fff" stroke="#1d1a1b" stroke-width="1.1" />
</g>
<g transform="translate(362 484.7) rotate(-9.5)">
<rect x="6.5" y="-3.1" width="16" height="6.2" rx="0" fill="#fff" stroke="#333" stroke-width="0.9" />
<line x1="0.8" y1="-3.2" x2="7.5" y2="-3.2" stroke="#666" stroke-width="0.9" />
<line x1="0.8" y1="-1.1" x2="7.5" y2="-1.1" stroke="#666" stroke-width="0.9" />
<line x1="0.8" y1="1.1" x2="7.5" y2="1.1" stroke="#666" stroke-width="0.9" />
<line x1="0.8" y1="3.2" x2="7.5" y2="3.2" stroke="#666" stroke-width="0.9" />
<path d="M0 -7.2 Q-7.5 -5.4 -8 0 Q-7.5 5.4 0 7.2 Z" fill="#fff" stroke="#1d1a1b" stroke-width="1.1" />
</g>
<line x1="390" y1="452" x2="452" y2="446" stroke="#333" stroke-width="1.0" stroke-dasharray="2.2 2.2"/>
<line x1="390" y1="482" x2="452" y2="474" stroke="#333" stroke-width="1.0" stroke-dasharray="2.2 2.2"/>
<line x1="419" y1="451" x2="443" y2="447.5" stroke="#777" stroke-width="3.4" />
<line x1="421" y1="476.5" x2="445" y2="472" stroke="#777" stroke-width="3.4" />
<path d="M444 443.5 l4.5 2.5 l-3 5 Z" fill="#fff" stroke="#1d1a1b" stroke-width="0.9" />
<path d="M446 468 l4.5 2.5 l-3 5 Z" fill="#fff" stroke="#1d1a1b" stroke-width="0.9" />
<g transform="translate(369.3 502.7) rotate(12) scale(1.05)">
<circle cx="-3.1" cy="-0.6" r="3.4" fill="#1d1a1b"/>
<circle cx="-3.3" cy="-0.8" r="1.0" fill="#9a9a9a"/>
<rect x="-1.4" y="-5.6" width="6.6" height="11.6" rx="0" fill="#1d1a1b" stroke="#1d1a1b" stroke-width="0.6" />
<rect x="1.7" y="-2.6" width="1.7" height="3.3" rx="0" fill="#fff" stroke="none" stroke-width="0" />
<rect x="0.5" y="2.4" width="2.5" height="1.2" rx="0" fill="#fff" stroke="none" stroke-width="0" />
<line x1="0.8" y1="6" x2="0.6" y2="9.4" stroke="#1d1a1b" stroke-width="1.1" />
</g>
<line x1="374" y1="503" x2="425" y2="519" stroke="#333" stroke-width="1.0" stroke-dasharray="2.2 2.2"/>
<g transform="translate(440 525.6) rotate(17)">
<line x1="-11.5" y1="0" x2="-1.5" y2="0" stroke="#2a2a2a" stroke-width="4.2" />
<path d="M-1.8 -5.6 L-0.5 -5.6 Q5.5 0 -0.5 5.6 L-1.8 5.6 Z" fill="#fff" stroke="#1d1a1b" stroke-width="1.1" />
</g>
<g transform="translate(444 526.5) rotate(17)">
<line x1="0" y1="0" x2="34" y2="0" stroke="#1d1a1b" stroke-width="4.4" />
<rect x="33" y="-3.2" width="5.5" height="6.4" rx="0" fill="#1d1a1b" stroke="#1d1a1b" stroke-width="0.5" />
<ellipse cx="39" cy="0" rx="1.8" ry="3.6" fill="#fff" stroke="#1d1a1b" stroke-width="1.5" />
<path d="M40 -3.7 L71 -4.5 Q75.5 0 71 4.5 L40 3.7 Q38.5 0 40 -3.7 Z" fill="#fff" stroke="#1d1a1b" stroke-width="2" />
</g>
<ellipse cx="483.4" cy="569.2" rx="18" ry="13.3" fill="#fff" stroke="#1d1a1b" stroke-width="1.1" />
<text x="483.4" y="575.1" font-family="'Liberation Sans', sans-serif" font-size="16.7" font-weight="bold" text-anchor="middle" fill="#1d1a1b" textLength="26.5" lengthAdjust="spacingAndGlyphs"  stroke="#fff" stroke-width="0.15">201</text>
<line x1="506.1" y1="569.2" x2="520.5" y2="569.2" stroke="#1d1a1b" stroke-width="3" />
<line x1="513.3" y1="562" x2="513.3" y2="576.4" stroke="#1d1a1b" stroke-width="3" />
<ellipse cx="542.6" cy="569.2" rx="18" ry="13.3" fill="#fff" stroke="#1d1a1b" stroke-width="1.1" />
<text x="542.6" y="575.1" font-family="'Liberation Sans', sans-serif" font-size="16.7" font-weight="bold" text-anchor="middle" fill="#1d1a1b" textLength="26.5" lengthAdjust="spacingAndGlyphs"  stroke="#fff" stroke-width="0.15">102</text>
<g transform="translate(0 1159) scale(1 -1)">
<polygon points="415.1,571.4 441.9,571.4 442.9,573.9 414.1,573.9" fill="#a8a8a8" stroke="#1d1a1b" stroke-width="1.3" stroke-linejoin="miter" />
<line x1="415.1" y1="571.3" x2="441.9" y2="571.3" stroke="#1d1a1b" stroke-width="1.5" />
<line x1="420.5" y1="574" x2="420.5" y2="587.6" stroke="#1d1a1b" stroke-width="2.0" />
<line x1="436.5" y1="574" x2="436.5" y2="587.6" stroke="#1d1a1b" stroke-width="2.0" />
<line x1="428.5" y1="574" x2="428.5" y2="587.6" stroke="#1d1a1b" stroke-width="3.0" />
<path d="M413.5 576.6 Q417.5 577 420 577.6 L437 577.6 Q439.5 577 443.5 576.6 Q439.5 578.2 437 579.2 L420 579.2 Q417.5 578.2 413.5 576.6 Z" fill="#1d1a1b" stroke="#1d1a1b" stroke-width="0.4" />
<path d="M413.5 581.4 Q417.5 581.8 420 582.4 L437 582.4 Q439.5 581.8 443.5 581.4 Q439.5 583 437 584 L420 584 Q417.5 583 413.5 581.4 Z" fill="#1d1a1b" stroke="#1d1a1b" stroke-width="0.4" />
<path d="M413.5 585.8 Q417.5 586.2 420 586.8 L437 586.8 Q439.5 586.2 443.5 585.8 Q439.5 587.4 437 588.4 L420 588.4 Q417.5 587.4 413.5 585.8 Z" fill="#1d1a1b" stroke="#1d1a1b" stroke-width="0.4" />
</g>
<ellipse cx="429.5" cy="604.5" rx="15.8" ry="11.9" fill="#fff" stroke="#1d1a1b" stroke-width="1.1" />
<text x="429.5" y="610" font-family="'Liberation Sans', sans-serif" font-size="15.4" font-weight="bold" text-anchor="middle" fill="#1d1a1b" textLength="24" lengthAdjust="spacingAndGlyphs"  stroke="#fff" stroke-width="0.15">250</text>
<line x1="429" y1="566" x2="416.8" y2="524.7" stroke="#1d1a1b" stroke-width="1.3" />
<polygon points="414.5,517 419.8,523.8 413.7,525.6" fill="#1d1a1b" stroke="#1d1a1b" stroke-width="0.5" stroke-linejoin="miter" />
<g transform="translate(368.5 765.5) rotate(12) scale(1.0)">
<circle cx="-3.1" cy="-0.6" r="3.4" fill="#1d1a1b"/>
<circle cx="-3.3" cy="-0.8" r="1.0" fill="#9a9a9a"/>
<rect x="-1.4" y="-5.6" width="6.6" height="11.6" rx="0" fill="#1d1a1b" stroke="#1d1a1b" stroke-width="0.6" />
<rect x="1.7" y="-2.6" width="1.7" height="3.3" rx="0" fill="#fff" stroke="none" stroke-width="0" />
<rect x="0.5" y="2.4" width="2.5" height="1.2" rx="0" fill="#fff" stroke="none" stroke-width="0" />
<line x1="0.8" y1="6" x2="0.6" y2="9.4" stroke="#1d1a1b" stroke-width="1.1" />
</g>
<line x1="374" y1="766" x2="425" y2="781" stroke="#333" stroke-width="1.0" stroke-dasharray="2.2 2.2"/>
<g transform="translate(440 786.2) rotate(17)">
<line x1="-11.5" y1="0" x2="-1.5" y2="0" stroke="#2a2a2a" stroke-width="4.2" />
<path d="M-1.8 -5.6 L-0.5 -5.6 Q5.5 0 -0.5 5.6 L-1.8 5.6 Z" fill="#fff" stroke="#1d1a1b" stroke-width="1.1" />
</g>
<g transform="translate(445 787.3) rotate(17.4)">
<line x1="0" y1="0" x2="31" y2="0" stroke="#1d1a1b" stroke-width="4.4" />
<rect x="30" y="-3.2" width="5.5" height="6.4" rx="0" fill="#1d1a1b" stroke="#1d1a1b" stroke-width="0.5" />
<ellipse cx="36" cy="0" rx="1.8" ry="3.6" fill="#fff" stroke="#1d1a1b" stroke-width="1.5" />
<path d="M37 -3.7 L68 -4.5 Q72.5 0 68 4.5 L37 3.7 Q35.5 0 37 -3.7 Z" fill="#fff" stroke="#1d1a1b" stroke-width="2" />
</g>
<ellipse cx="441.3" cy="830.7" rx="18" ry="13.3" fill="#fff" stroke="#1d1a1b" stroke-width="1.1" />
<text x="441.3" y="836.6" font-family="'Liberation Sans', sans-serif" font-size="16.7" font-weight="bold" text-anchor="middle" fill="#1d1a1b" textLength="26.5" lengthAdjust="spacingAndGlyphs"  stroke="#fff" stroke-width="0.15">201</text>
<line x1="464.1" y1="830.7" x2="478.5" y2="830.7" stroke="#1d1a1b" stroke-width="3" />
<line x1="471.3" y1="823.5" x2="471.3" y2="837.9" stroke="#1d1a1b" stroke-width="3" />
<ellipse cx="500" cy="830.7" rx="18" ry="13.3" fill="#fff" stroke="#1d1a1b" stroke-width="1.1" />
<text x="500" y="836.6" font-family="'Liberation Sans', sans-serif" font-size="16.7" font-weight="bold" text-anchor="middle" fill="#1d1a1b" textLength="26.5" lengthAdjust="spacingAndGlyphs"  stroke="#fff" stroke-width="0.15">102</text>
<g transform="translate(702 706) rotate(12) scale(1.0)">
<circle cx="-3.1" cy="-0.6" r="3.4" fill="#1d1a1b"/>
<circle cx="-3.3" cy="-0.8" r="1.0" fill="#9a9a9a"/>
<rect x="-1.4" y="-5.6" width="6.6" height="11.6" rx="0" fill="#1d1a1b" stroke="#1d1a1b" stroke-width="0.6" />
<rect x="1.7" y="-2.6" width="1.7" height="3.3" rx="0" fill="#fff" stroke="none" stroke-width="0" />
<rect x="0.5" y="2.4" width="2.5" height="1.2" rx="0" fill="#fff" stroke="none" stroke-width="0" />
<line x1="0.8" y1="6" x2="0.6" y2="9.4" stroke="#1d1a1b" stroke-width="1.1" />
</g>
<line x1="708" y1="707" x2="752" y2="719" stroke="#333" stroke-width="1.0" stroke-dasharray="2.2 2.2"/>
<g transform="translate(763 722.5) rotate(17)">
<line x1="-12.5" y1="0" x2="-1.5" y2="0" stroke="#2a2a2a" stroke-width="4.2" />
<path d="M-1.8 -5.6 L-0.5 -5.6 Q5.5 0 -0.5 5.6 L-1.8 5.6 Z" fill="#fff" stroke="#1d1a1b" stroke-width="1.1" />
</g>
<g transform="translate(767.5 724.5) rotate(17)">
<line x1="0" y1="0" x2="27" y2="0" stroke="#1d1a1b" stroke-width="4.4" />
<rect x="26" y="-3.2" width="5.5" height="6.4" rx="0" fill="#1d1a1b" stroke="#1d1a1b" stroke-width="0.5" />
<ellipse cx="32" cy="0" rx="1.8" ry="3.6" fill="#fff" stroke="#1d1a1b" stroke-width="1.5" />
<path d="M33 -3.7 L62 -4.5 Q66.5 0 62 4.5 L33 3.7 Q31.5 0 33 -3.7 Z" fill="#fff" stroke="#1d1a1b" stroke-width="2" />
</g>
<ellipse cx="761.7" cy="759.7" rx="16.6" ry="12.4" fill="#fff" stroke="#1d1a1b" stroke-width="1.1" />
<text x="761.7" y="765.3" font-family="'Liberation Sans', sans-serif" font-size="16" font-weight="bold" text-anchor="middle" fill="#1d1a1b" textLength="25" lengthAdjust="spacingAndGlyphs"  stroke="#fff" stroke-width="0.15">501</text>
<line x1="782.1" y1="759.5" x2="796.5" y2="759.5" stroke="#1d1a1b" stroke-width="3" />
<line x1="789.3" y1="752.3" x2="789.3" y2="766.7" stroke="#1d1a1b" stroke-width="3" />
<ellipse cx="816" cy="759.7" rx="16.6" ry="12.4" fill="#fff" stroke="#1d1a1b" stroke-width="1.1" />
<text x="816" y="765.3" font-family="'Liberation Sans', sans-serif" font-size="16" font-weight="bold" text-anchor="middle" fill="#1d1a1b" textLength="25" lengthAdjust="spacingAndGlyphs"  stroke="#fff" stroke-width="0.15">102</text>
<line x1="791" y1="691" x2="848" y2="707" stroke="#888" stroke-width="1.0" stroke-dasharray="2.2 2.2"/>
<g transform="translate(788 690) rotate(12) scale(0.9)">
<circle cx="-3.1" cy="-0.6" r="3.4" fill="#9a9a9a"/>
<circle cx="-3.3" cy="-0.8" r="1.0" fill="#9a9a9a"/>
<rect x="-1.4" y="-5.6" width="6.6" height="11.6" rx="0" fill="#9a9a9a" stroke="#9a9a9a" stroke-width="0.6" />
<rect x="1.7" y="-2.6" width="1.7" height="3.3" rx="0" fill="#fff" stroke="none" stroke-width="0" />
<rect x="0.5" y="2.4" width="2.5" height="1.2" rx="0" fill="#fff" stroke="none" stroke-width="0" />
<line x1="0.8" y1="6" x2="0.6" y2="9.4" stroke="#9a9a9a" stroke-width="1.1" />
</g>
<g transform="translate(872 714) rotate(15)">
<line x1="-24.5" y1="0" x2="-1.5" y2="0" stroke="#666" stroke-width="4.2" />
<path d="M-1.8 -5.6 L-0.5 -5.6 Q5.5 0 -0.5 5.6 L-1.8 5.6 Z" fill="#fff" stroke="#1d1a1b" stroke-width="1.1" />
</g>
<g transform="translate(876 715.3) rotate(15)">
<line x1="0" y1="0" x2="30" y2="0" stroke="#1d1a1b" stroke-width="4.4" />
<rect x="29" y="-3.2" width="5.5" height="6.4" rx="0" fill="#1d1a1b" stroke="#1d1a1b" stroke-width="0.5" />
<ellipse cx="35" cy="0" rx="1.8" ry="3.6" fill="#fff" stroke="#1d1a1b" stroke-width="1.5" />
<path d="M36 -3.7 L65 -4.5 Q69.5 0 65 4.5 L36 3.7 Q34.5 0 36 -3.7 Z" fill="#fff" stroke="#1d1a1b" stroke-width="2" />
</g>
<ellipse cx="897" cy="690.5" rx="18" ry="13.3" fill="#fff" stroke="#1d1a1b" stroke-width="1.1" />
<text x="897" y="696.4" font-family="'Liberation Sans', sans-serif" font-size="16.7" font-weight="bold" text-anchor="middle" fill="#1d1a1b" textLength="26.5" lengthAdjust="spacingAndGlyphs"  stroke="#fff" stroke-width="0.15">406</text>
<line x1="919.8" y1="690.5" x2="934.2" y2="690.5" stroke="#1d1a1b" stroke-width="3" />
<line x1="927" y1="683.3" x2="927" y2="697.7" stroke="#1d1a1b" stroke-width="3" />
<ellipse cx="955.5" cy="690.5" rx="18" ry="13.3" fill="#fff" stroke="#1d1a1b" stroke-width="1.1" />
<text x="955.5" y="696.4" font-family="'Liberation Sans', sans-serif" font-size="16.7" font-weight="bold" text-anchor="middle" fill="#1d1a1b" textLength="26.5" lengthAdjust="spacingAndGlyphs"  stroke="#fff" stroke-width="0.15">102</text>
<g transform="translate(0 1615) scale(1 -1)">
<polygon points="726.1,799.4 752.9,799.4 753.9,801.9 725.1,801.9" fill="#a8a8a8" stroke="#1d1a1b" stroke-width="1.3" stroke-linejoin="miter" />
<line x1="726.1" y1="799.3" x2="752.9" y2="799.3" stroke="#1d1a1b" stroke-width="1.5" />
<line x1="731.5" y1="802" x2="731.5" y2="815.6" stroke="#1d1a1b" stroke-width="2.0" />
<line x1="747.5" y1="802" x2="747.5" y2="815.6" stroke="#1d1a1b" stroke-width="2.0" />
<line x1="739.5" y1="802" x2="739.5" y2="815.6" stroke="#1d1a1b" stroke-width="3.0" />
<path d="M724.5 804.6 Q728.5 805 731 805.6 L748 805.6 Q750.5 805 754.5 804.6 Q750.5 806.2 748 807.2 L731 807.2 Q728.5 806.2 724.5 804.6 Z" fill="#1d1a1b" stroke="#1d1a1b" stroke-width="0.4" />
<path d="M724.5 809.4 Q728.5 809.8 731 810.4 L748 810.4 Q750.5 809.8 754.5 809.4 Q750.5 811 748 812 L731 812 Q728.5 811 724.5 809.4 Z" fill="#1d1a1b" stroke="#1d1a1b" stroke-width="0.4" />
<path d="M724.5 813.8 Q728.5 814.2 731 814.8 L748 814.8 Q750.5 814.2 754.5 813.8 Q750.5 815.4 748 816.4 L731 816.4 Q728.5 815.4 724.5 813.8 Z" fill="#1d1a1b" stroke="#1d1a1b" stroke-width="0.4" />
</g>
<ellipse cx="739" cy="835.5" rx="15.8" ry="11.9" fill="#fff" stroke="#1d1a1b" stroke-width="1.1" />
<text x="739" y="841" font-family="'Liberation Sans', sans-serif" font-size="15.4" font-weight="bold" text-anchor="middle" fill="#1d1a1b" textLength="24" lengthAdjust="spacingAndGlyphs"  stroke="#fff" stroke-width="0.15">250</text>
<line x1="738.7" y1="792" x2="738.7" y2="737" stroke="#1d1a1b" stroke-width="1.3" />
<polygon points="738.7,728 742.3,737 735.1,737" fill="#1d1a1b" stroke="#1d1a1b" stroke-width="0.5" stroke-linejoin="miter" />
<g transform="translate(0 1617) scale(1 -1)">
<polygon points="825.1,800.4 851.9,800.4 852.9,802.9 824.1,802.9" fill="#a8a8a8" stroke="#1d1a1b" stroke-width="1.3" stroke-linejoin="miter" />
<line x1="825.1" y1="800.3" x2="851.9" y2="800.3" stroke="#1d1a1b" stroke-width="1.5" />
<line x1="830.5" y1="803" x2="830.5" y2="816.6" stroke="#1d1a1b" stroke-width="2.0" />
<line x1="846.5" y1="803" x2="846.5" y2="816.6" stroke="#1d1a1b" stroke-width="2.0" />
<line x1="838.5" y1="803" x2="838.5" y2="816.6" stroke="#1d1a1b" stroke-width="3.0" />
<path d="M823.5 805.6 Q827.5 806 830 806.6 L847 806.6 Q849.5 806 853.5 805.6 Q849.5 807.2 847 808.2 L830 808.2 Q827.5 807.2 823.5 805.6 Z" fill="#1d1a1b" stroke="#1d1a1b" stroke-width="0.4" />
<path d="M823.5 810.4 Q827.5 810.8 830 811.4 L847 811.4 Q849.5 810.8 853.5 810.4 Q849.5 812 847 813 L830 813 Q827.5 812 823.5 810.4 Z" fill="#1d1a1b" stroke="#1d1a1b" stroke-width="0.4" />
<path d="M823.5 814.8 Q827.5 815.2 830 815.8 L847 815.8 Q849.5 815.2 853.5 814.8 Q849.5 816.4 847 817.4 L830 817.4 Q827.5 816.4 823.5 814.8 Z" fill="#1d1a1b" stroke="#1d1a1b" stroke-width="0.4" />
</g>
<ellipse cx="838" cy="834.5" rx="15.8" ry="11.9" fill="#fff" stroke="#1d1a1b" stroke-width="1.1" />
<text x="838" y="840" font-family="'Liberation Sans', sans-serif" font-size="15.4" font-weight="bold" text-anchor="middle" fill="#1d1a1b" textLength="24" lengthAdjust="spacingAndGlyphs"  stroke="#fff" stroke-width="0.15">250</text>
<line x1="836" y1="793" x2="838.6" y2="725" stroke="#1d1a1b" stroke-width="1.3" />
<polygon points="839,716 842.2,725.1 835.1,724.9" fill="#1d1a1b" stroke="#1d1a1b" stroke-width="0.5" stroke-linejoin="miter" />
<rect x="75" y="919" width="1053" height="714.5" rx="28" fill="#fff" stroke="#1d1a1b" stroke-width="2.2" />
<rect x="86.7" y="930.7" width="70" height="69.5" rx="13" fill="#231f20" stroke="none" stroke-width="0" />
<text x="121.7" y="982.6" font-family="'Liberation Serif', sans-serif" font-size="52" font-weight="bold" text-anchor="middle" fill="#fff" >5</text>
<text x="130" y="1043.3" font-family="'Liberation Sans', sans-serif" font-size="23" font-weight="bold" text-anchor="middle" fill="#1d1a1b"  stroke="#fff" stroke-width="0.22">4 x</text>
<text x="130" y="1066.7" font-family="'Liberation Sans', sans-serif" font-size="23" font-weight="bold" text-anchor="middle" fill="#1d1a1b" textLength="52.5" lengthAdjust="spacingAndGlyphs"  stroke="#fff" stroke-width="0.22">6x15</text>
<path d="M110 1077.6 C103.5 1081.6 100.2 1087 100 1094.8 l2.4 1.2 l-2.4 1.2 C100.2 1105 103.5 1110.4 110 1114.4 L110 1104 L122 1104 L122 1088 L110 1088 Z" fill="#fff" stroke="#1d1a1b" stroke-width="1.3" stroke-linejoin="miter"/>
<g transform="translate(122 1090.2)">
<rect x="0" y="0" width="37.5" height="11.5" rx="0" fill="url(#hatchA)" stroke="#1d1a1b" stroke-width="1.1" />
</g>
<ellipse cx="129.3" cy="1132.3" rx="28.8" ry="21.5" fill="#fff" stroke="#1d1a1b" stroke-width="1.3" />
<text x="129.3" y="1142.3" font-family="'Liberation Sans', sans-serif" font-size="28" font-weight="bold" text-anchor="middle" fill="#1d1a1b" textLength="41.5" lengthAdjust="spacingAndGlyphs"  stroke="#fff" stroke-width="0.22">201</text>
<text x="231.7" y="1043" font-family="'Liberation Sans', sans-serif" font-size="23" font-weight="bold" text-anchor="middle" fill="#1d1a1b"  stroke="#fff" stroke-width="0.22">4 x</text>
<text x="231.7" y="1066.2" font-family="'Liberation Sans', sans-serif" font-size="23" font-weight="bold" text-anchor="middle" fill="#1d1a1b" textLength="52.5" lengthAdjust="spacingAndGlyphs"  stroke="#fff" stroke-width="0.22">8x25</text>
<path d="M195 1073.6 L187 1073.6 Q177.5 1076.3 177.5 1086.3 L177.5 1102.3 Q177.5 1112.3 187 1115 L195 1115 Z" fill="#fff" stroke="#1d1a1b" stroke-width="1.8" />
<path d="M177.5 1091.9 L185.5 1091.9 L185.5 1096.7 L177.5 1096.7" fill="#fff" stroke="#1d1a1b" stroke-width="1.6" />
<rect x="195" y="1085.5" width="73.5" height="17.6" rx="0" fill="#fff" stroke="#1d1a1b" stroke-width="1.8" />
<ellipse cx="204.5" cy="1087.1" rx="7.8" ry="2.3" fill="#fff" stroke="#1d1a1b" stroke-width="1.1" />
<ellipse cx="204.5" cy="1094.6" rx="7.8" ry="2.3" fill="#fff" stroke="#1d1a1b" stroke-width="1.1" />
<ellipse cx="204.5" cy="1102.6" rx="7.8" ry="2.3" fill="#fff" stroke="#1d1a1b" stroke-width="1.1" />
<rect x="212.5" y="1089.1" width="4.8" height="3" rx="0" fill="#1d1a1b" stroke="#1d1a1b" stroke-width="0.3" />
<rect x="212.5" y="1096.3" width="4.8" height="3" rx="0" fill="#1d1a1b" stroke="#1d1a1b" stroke-width="0.3" />
<ellipse cx="231.7" cy="1131" rx="28.8" ry="21.5" fill="#fff" stroke="#1d1a1b" stroke-width="1.3" />
<text x="231.7" y="1141" font-family="'Liberation Sans', sans-serif" font-size="28" font-weight="bold" text-anchor="middle" fill="#1d1a1b" textLength="41.5" lengthAdjust="spacingAndGlyphs"  stroke="#fff" stroke-width="0.22">801</text>
<text x="177.3" y="1181" font-family="'Liberation Sans', sans-serif" font-size="23" font-weight="bold" text-anchor="middle" fill="#1d1a1b"  stroke="#fff" stroke-width="0.22">4 x</text>
<text x="176.7" y="1205" font-family="'Liberation Sans', sans-serif" font-size="23" font-weight="bold" text-anchor="middle" fill="#1d1a1b" textLength="66.5" lengthAdjust="spacingAndGlyphs"  stroke="#fff" stroke-width="0.22">6 x 45</text>
<path d="M133.2 1214.3 C125.2 1218.3 121.9 1223.7 121.7 1231.5 l2.4 1.2 l-2.4 1.2 C121.9 1241.7 125.2 1247.1 133.2 1251.1 L133.2 1240.7 L146.2 1240.7 L146.2 1224.7 L133.2 1224.7 Z" fill="#fff" stroke="#1d1a1b" stroke-width="1.3" stroke-linejoin="miter"/>
<g transform="translate(146.2 1227)">
<rect x="0" y="0" width="86.5" height="11.5" rx="0" fill="url(#hatchD)" stroke="#1d1a1b" stroke-width="1.1" />
</g>
<ellipse cx="177.3" cy="1270" rx="28.8" ry="21.5" fill="#fff" stroke="#1d1a1b" stroke-width="1.3" />
<text x="177.3" y="1280" font-family="'Liberation Sans', sans-serif" font-size="28" font-weight="bold" text-anchor="middle" fill="#1d1a1b" textLength="41.5" lengthAdjust="spacingAndGlyphs"  stroke="#fff" stroke-width="0.22">802</text>
<text x="171.7" y="1323.3" font-family="'Liberation Sans', sans-serif" font-size="23" font-weight="bold" text-anchor="middle" fill="#1d1a1b"  stroke="#fff" stroke-width="0.22">4 x</text>
<polygon points="134.7,1330.2 208.7,1330.2 211.3,1337.2 132.1,1337.2" fill="#fff" stroke="#1d1a1b" stroke-width="1.9" stroke-linejoin="miter" />
<line x1="150.3" y1="1337.6" x2="150.3" y2="1377.6" stroke="#1d1a1b" stroke-width="3.5" />
<line x1="193.5" y1="1337.6" x2="193.5" y2="1377.6" stroke="#1d1a1b" stroke-width="3.5" />
<line x1="172.1" y1="1337.6" x2="172.1" y2="1377.6" stroke="#1d1a1b" stroke-width="7.4" />
<polygon points="130.2,1345.1 213.2,1345.1 194.9,1350.9 148.5,1350.9" fill="#fff" stroke="#1d1a1b" stroke-width="1.6" stroke-linejoin="miter" />
<line x1="130.2" y1="1345.1" x2="213.2" y2="1345.1" stroke="#1d1a1b" stroke-width="2.2" />
<polygon points="130.2,1345.1 147.7,1345.1 148.5,1350.9" fill="#1d1a1b" stroke="#1d1a1b" stroke-width="0.8" stroke-linejoin="miter" />
<polygon points="213.2,1345.1 195.7,1345.1 194.9,1350.9" fill="#1d1a1b" stroke="#1d1a1b" stroke-width="0.8" stroke-linejoin="miter" />
<polygon points="130.2,1358.8 213.2,1358.8 194.9,1364.5 148.5,1364.5" fill="#fff" stroke="#1d1a1b" stroke-width="1.6" stroke-linejoin="miter" />
<line x1="130.2" y1="1358.8" x2="213.2" y2="1358.8" stroke="#1d1a1b" stroke-width="2.2" />
<polygon points="130.2,1358.8 147.7,1358.8 148.5,1364.5" fill="#1d1a1b" stroke="#1d1a1b" stroke-width="0.8" stroke-linejoin="miter" />
<polygon points="213.2,1358.8 195.7,1358.8 194.9,1364.5" fill="#1d1a1b" stroke="#1d1a1b" stroke-width="0.8" stroke-linejoin="miter" />
<polygon points="130.2,1371.8 213.2,1371.8 194.9,1377.9 148.5,1377.9" fill="#fff" stroke="#1d1a1b" stroke-width="1.6" stroke-linejoin="miter" />
<line x1="130.2" y1="1371.8" x2="213.2" y2="1371.8" stroke="#1d1a1b" stroke-width="2.2" />
<polygon points="130.2,1371.8 147.7,1371.8 148.5,1377.9" fill="#1d1a1b" stroke="#1d1a1b" stroke-width="0.8" stroke-linejoin="miter" />
<polygon points="213.2,1371.8 195.7,1371.8 194.9,1377.9" fill="#1d1a1b" stroke="#1d1a1b" stroke-width="0.8" stroke-linejoin="miter" />
<text x="178.5" y="1397.6" font-family="'Liberation Sans', sans-serif" font-size="17.8" font-weight="bold" text-anchor="middle" fill="#1d1a1b" textLength="61" lengthAdjust="spacingAndGlyphs"  stroke="#fff" stroke-width="0.15">25 mm</text>
<ellipse cx="136.2" cy="1391.7" rx="4.3" ry="6" fill="none" stroke="#1d1a1b" stroke-width="2.5" transform="rotate(14 136.2 1391.7)"/>
<line x1="124.8" y1="1400.8" x2="142" y2="1383.3" stroke="#1d1a1b" stroke-width="1.5" />
<ellipse cx="171.7" cy="1426.7" rx="28.8" ry="21.5" fill="#fff" stroke="#1d1a1b" stroke-width="1.3" />
<text x="171.7" y="1436.7" font-family="'Liberation Sans', sans-serif" font-size="28" font-weight="bold" text-anchor="middle" fill="#1d1a1b" textLength="41.5" lengthAdjust="spacingAndGlyphs"  stroke="#fff" stroke-width="0.22">250</text>
<text x="140" y="1477.3" font-family="'Liberation Sans', sans-serif" font-size="23" font-weight="bold" text-anchor="middle" fill="#1d1a1b"  stroke="#fff" stroke-width="0.22">4 x</text>
<path d="M118.2 1511.5 L118.2 1502.5 A17.6 16.5 0 0 1 153.4 1502.5 L153.4 1511.5 Z" fill="#a7a5a6" stroke="#1d1a1b" stroke-width="2.4" />
<path d="M110.8 1519 Q113.8 1511.5 119.2 1511.5 L152.4 1511.5 Q157.8 1511.5 160.8 1519 Z" fill="#fff" stroke="#1d1a1b" stroke-width="2.2" />
<path d="M114.3 1519 Q116.8 1514.5 121.2 1514.5 L150.4 1514.5 Q154.8 1514.5 157.3 1519" fill="none" stroke="#1d1a1b" stroke-width="1.0" />
<rect x="101.8" y="1519" width="68" height="29" rx="0" fill="#fff" stroke="#1d1a1b" stroke-width="2.2" />
<line x1="120.3" y1="1522" x2="120.3" y2="1543" stroke="#1d1a1b" stroke-width="1.3" />
<line x1="151.3" y1="1522" x2="151.3" y2="1543" stroke="#1d1a1b" stroke-width="1.3" />
<ellipse cx="132.5" cy="1571.3" rx="28.8" ry="21.5" fill="#fff" stroke="#1d1a1b" stroke-width="1.3" />
<text x="132.5" y="1581.3" font-family="'Liberation Sans', sans-serif" font-size="28" font-weight="bold" text-anchor="middle" fill="#1d1a1b" textLength="41.5" lengthAdjust="spacingAndGlyphs"  stroke="#fff" stroke-width="0.22">102</text>
<text x="105.8" y="1621" font-family="'Liberation Sans', sans-serif" font-size="23" font-weight="bold" text-anchor="start" fill="#1d1a1b" textLength="41" lengthAdjust="spacingAndGlyphs"  stroke="#fff" stroke-width="0.22">M 6</text>
<text x="230.7" y="1477" font-family="'Liberation Sans', sans-serif" font-size="23" font-weight="bold" text-anchor="middle" fill="#1d1a1b"  stroke="#fff" stroke-width="0.22">4 x</text>
<line x1="210.8" y1="1494.5" x2="250.8" y2="1494.5" stroke="#1d1a1b" stroke-width="2.4" />
<path d="M216.5 1494.5 L216.5 1525 L220.3 1525 L220.3 1532 L241.3 1532 L241.3 1525 L245.1 1525 L245.1 1494.5" fill="#fff" stroke="#1d1a1b" stroke-width="2.2" />
<line x1="221.8" y1="1495.5" x2="221.8" y2="1522.5" stroke="#1d1a1b" stroke-width="1.6" />
<line x1="226.3" y1="1495.5" x2="226.3" y2="1522.5" stroke="#1d1a1b" stroke-width="1.6" />
<line x1="230.8" y1="1495.5" x2="230.8" y2="1522.5" stroke="#1d1a1b" stroke-width="1.6" />
<line x1="235.3" y1="1495.5" x2="235.3" y2="1522.5" stroke="#1d1a1b" stroke-width="1.6" />
<line x1="239.8" y1="1495.5" x2="239.8" y2="1522.5" stroke="#1d1a1b" stroke-width="1.6" />
<path d="M222.3 1528.5 l3 -3.5 l11 0 l3 3.5" fill="none" stroke="#1d1a1b" stroke-width="1.3" />
<ellipse cx="231" cy="1568.7" rx="28.8" ry="21.5" fill="#fff" stroke="#1d1a1b" stroke-width="1.3" />
<text x="231" y="1578.7" font-family="'Liberation Sans', sans-serif" font-size="28" font-weight="bold" text-anchor="middle" fill="#1d1a1b" textLength="41.5" lengthAdjust="spacingAndGlyphs"  stroke="#fff" stroke-width="0.22">080</text>
<polygon points="814,1390 814,1053 822.3,1053 822.3,1390" fill="#fff" stroke="#1d1a1b" stroke-width="2.5" stroke-linejoin="miter" />
<polygon points="822.3,1058.4 984,1089 984,1095 822.3,1064.5" fill="#fff" stroke="#1d1a1b" stroke-width="2.45" stroke-linejoin="miter" />
<polygon points="822.3,1076 984,1109.7 984,1115.2 822.3,1081.3" fill="#fff" stroke="#1d1a1b" stroke-width="2.45" stroke-linejoin="miter" />
<polygon points="822.3,1097 984,1134 984,1139.2 822.3,1102.2" fill="#fff" stroke="#1d1a1b" stroke-width="2.45" stroke-linejoin="miter" />
<polygon points="822.3,1118 984,1157 984,1162.5 822.3,1124" fill="#fff" stroke="#1d1a1b" stroke-width="2.45" stroke-linejoin="miter" />
<polygon points="822.3,1296.7 984,1338.8 984,1346.3 822.3,1305.5" fill="#fff" stroke="#1d1a1b" stroke-width="2.45" stroke-linejoin="miter" />
<polygon points="461.4,1123 805.6,1067.4 805.6,1118.5 461.4,1174.5" fill="#fff" stroke="#1d1a1b" stroke-width="2.0" stroke-linejoin="miter" />
<polygon points="461.4,1130 616,1105.1 616,1120.8 461.4,1146.4" fill="#fff" stroke="#1d1a1b" stroke-width="2.0" stroke-linejoin="miter" />
<polygon points="461.4,1152 616,1126.8 616,1142.4 461.4,1168" fill="#fff" stroke="#1d1a1b" stroke-width="2.0" stroke-linejoin="miter" />
<polygon points="623.5,1103.9 805.6,1074.6 805.6,1089.5 623.5,1119.6" fill="#fff" stroke="#1d1a1b" stroke-width="2.0" stroke-linejoin="miter" />
<polygon points="623.5,1125.6 805.6,1096 805.6,1111 623.5,1141.2" fill="#fff" stroke="#1d1a1b" stroke-width="2.0" stroke-linejoin="miter" />
<polygon points="805.6,1130 805.6,1049 814,1049 814,1130" fill="#fff" stroke="#1d1a1b" stroke-width="2.5" stroke-linejoin="miter" />
<polygon points="452.4,1444.8 452.4,1109 462,1109 462,1444.8" fill="#fff" stroke="#1d1a1b" stroke-width="2.5" stroke-linejoin="miter" />
<polygon points="367.5,1186.5 805.6,1123.8 805.6,1130.3 367.5,1193.5" fill="#d9d9d9" stroke="#1d1a1b" stroke-width="1.2" stroke-linejoin="miter" />
<g >
<polygon points="367.5,1192 545,1240 551.9,1239 374.4,1191" fill="#d6d6d6" stroke="#555" stroke-width="0.7" stroke-linejoin="miter" />
<polygon points="818,1127 979,1170 972.1,1171 811.1,1128" fill="#d6d6d6" stroke="#555" stroke-width="0.7" stroke-linejoin="miter" />
<polygon points="474.7,1176.5 485.5,1175 658.7,1221.7 648.3,1223.3" fill="#cfcfcf" stroke="#222" stroke-width="1.2" stroke-linejoin="miter" />
<polygon points="587.3,1160.3 598.2,1158.7 767.2,1204.2 756.8,1205.8" fill="#cfcfcf" stroke="#222" stroke-width="1.2" stroke-linejoin="miter" />
<polygon points="700,1144 710.8,1142.5 875.7,1186.7 865.3,1188.3" fill="#cfcfcf" stroke="#222" stroke-width="1.2" stroke-linejoin="miter" />
<path d="M367.5 1192L545 1240M387.1 1189.2L563.9 1237M406.7 1186.3L582.7 1233.9M426.3 1183.5L601.6 1230.9M445.8 1180.7L620.5 1227.8M465.4 1177.9L639.3 1224.8M485 1175L658.2 1221.7M504.6 1172.2L677.1 1218.7M524.2 1169.4L696 1215.7M543.8 1166.6L714.8 1212.6M563.4 1163.7L733.7 1209.6M583 1160.9L752.6 1206.5M602.5 1158.1L771.4 1203.5M622.1 1155.3L790.3 1200.4M641.7 1152.4L809.2 1197.4M661.3 1149.6L828 1194.3M680.9 1146.8L846.9 1191.3M700.5 1144L865.8 1188.3M720.1 1141.1L884.7 1185.2M739.7 1138.3L903.5 1182.2M759.2 1135.5L922.4 1179.1M778.8 1132.7L941.3 1176.1M798.4 1129.8L960.1 1173M818 1127L979 1170M367.5 1192L818 1127M383.6 1196.4L832.6 1130.9M399.8 1200.7L847.3 1134.8M415.9 1205.1L861.9 1138.7M432 1209.5L876.5 1142.6M448.2 1213.8L891.2 1146.5M464.3 1218.2L905.8 1150.5M480.5 1222.5L920.5 1154.4M496.6 1226.9L935.1 1158.3M512.7 1231.3L949.7 1162.2M528.9 1235.6L964.4 1166.1M545 1240L979 1170" fill="none" stroke="#1c1c1c" stroke-width="1.35" />
</g>
<polygon points="818,1124 979,1164 979,1169.5 818,1129" fill="#fff" stroke="#1d1a1b" stroke-width="1.3" stroke-linejoin="miter" />
<polygon points="369,1389 814,1316 814,1322.5 369,1395.5" fill="#d9d9d9" stroke="#1d1a1b" stroke-width="1.2" stroke-linejoin="miter" />
<g >
<polygon points="369,1394.5 545,1437 551.9,1435.9 375.9,1393.4" fill="#d6d6d6" stroke="#555" stroke-width="0.7" stroke-linejoin="miter" />
<polygon points="813.5,1321.5 981,1365.5 974.1,1366.6 806.6,1322.6" fill="#d6d6d6" stroke="#555" stroke-width="0.7" stroke-linejoin="miter" />
<polygon points="474.8,1377.1 485.5,1375.4 659.2,1418.3 648.8,1420" fill="#cfcfcf" stroke="#222" stroke-width="1.2" stroke-linejoin="miter" />
<polygon points="585.9,1358.9 596.6,1357.1 768.2,1400.4 757.8,1402.1" fill="#cfcfcf" stroke="#222" stroke-width="1.2" stroke-linejoin="miter" />
<polygon points="697,1340.6 707.7,1338.9 877.2,1382.5 866.8,1384.2" fill="#cfcfcf" stroke="#222" stroke-width="1.2" stroke-linejoin="miter" />
<path d="M369 1394.5L545 1437M388.3 1391.3L564 1433.9M407.7 1388.2L582.9 1430.8M427 1385L601.9 1427.7M446.3 1381.8L620.8 1424.6M465.6 1378.6L639.8 1421.5M485 1375.5L658.7 1418.3M504.3 1372.3L677.7 1415.2M523.6 1369.1L696.7 1412.1M542.9 1365.9L715.6 1409M562.3 1362.8L734.6 1405.9M581.6 1359.6L753.5 1402.8M600.9 1356.4L772.5 1399.7M620.2 1353.2L791.4 1396.6M639.6 1350.1L810.4 1393.5M658.9 1346.9L829.3 1390.4M678.2 1343.7L848.3 1387.3M697.5 1340.5L867.3 1384.2M716.9 1337.4L886.2 1381M736.2 1334.2L905.2 1377.9M755.5 1331L924.1 1374.8M774.8 1327.8L943.1 1371.7M794.2 1324.7L962 1368.6M813.5 1321.5L981 1365.5M369 1394.5L813.5 1321.5M383.7 1398L827.5 1325.2M398.3 1401.6L841.4 1328.8M413 1405.1L855.4 1332.5M427.7 1408.7L869.3 1336.2M442.3 1412.2L883.3 1339.8M457 1415.8L897.2 1343.5M471.7 1419.3L911.2 1347.2M486.3 1422.8L925.2 1350.8M501 1426.4L939.1 1354.5M515.7 1429.9L953.1 1358.2M530.3 1433.5L967 1361.8M545 1437L981 1365.5" fill="none" stroke="#1c1c1c" stroke-width="1.35" />
</g>
<polygon points="822.3,1318.7 983,1359 983,1366.5 822.3,1326.5" fill="#fff" stroke="#1d1a1b" stroke-width="1.5" stroke-linejoin="miter" />
<polygon points="367.5,1261 452,1251.8 452,1257 367.5,1266.2" fill="#fff" stroke="#1d1a1b" stroke-width="2.45" stroke-linejoin="miter" />
<polygon points="367.5,1314 452,1306.3 452,1311.4 367.5,1320.4" fill="#fff" stroke="#1d1a1b" stroke-width="2.45" stroke-linejoin="miter" />
<polygon points="367.5,1370 452,1360.7 452,1365.8 367.5,1375" fill="#fff" stroke="#1d1a1b" stroke-width="2.45" stroke-linejoin="miter" />
<polygon points="367.5,1375 530,1420 530,1427.5 367.5,1382" fill="#fff" stroke="#1d1a1b" stroke-width="2.45" stroke-linejoin="miter" />
<polygon points="367.5,1396 530,1442.5 530,1448.7 367.5,1402" fill="#fff" stroke="#1d1a1b" stroke-width="2.45" stroke-linejoin="miter" />
<polygon points="368.7,1402.5 375.5,1404.5 373.7,1416 369.5,1416" fill="#e8e8e8" stroke="#1d1a1b" stroke-width="1" stroke-linejoin="miter" />
<polygon points="544,1437.2 982,1365.3 982,1375.8 544,1448.3" fill="#d9d9d9" stroke="#1d1a1b" stroke-width="1.6" stroke-linejoin="miter" />
<polygon points="544.5,1448.3 549.5,1447.5 547.5,1461 545,1461" fill="#e8e8e8" stroke="#1d1a1b" stroke-width="1.2" stroke-linejoin="miter" />
<polygon points="976.8,1376.6 983,1375.7 983,1389.8 979.2,1389.8" fill="#fff" stroke="#1d1a1b" stroke-width="1.3" stroke-linejoin="miter" />
<polygon points="367,1134.2 530.2,1166 530.2,1171.3 367,1140" fill="#fff" stroke="#1d1a1b" stroke-width="2.45" stroke-linejoin="miter" />
<polygon points="367,1154.2 530.2,1187.8 530.2,1193.2 367,1159.6" fill="#fff" stroke="#1d1a1b" stroke-width="2.45" stroke-linejoin="miter" />
<polygon points="367,1173.7 530.2,1212.7 530.2,1218.7 367,1179" fill="#fff" stroke="#1d1a1b" stroke-width="2.45" stroke-linejoin="miter" />
<polygon points="367,1194.3 530.2,1236.5 530.2,1243 367,1200.8" fill="#fff" stroke="#1d1a1b" stroke-width="2.45" stroke-linejoin="miter" />
<polygon points="368,1201.5 382,1206.3 375,1208.8 372.8,1220.3 368,1221.8" fill="#e0e0e0" stroke="#1d1a1b" stroke-width="1.4" stroke-linejoin="miter" />
<rect x="372.5" y="1143.5" width="13" height="11.5" rx="0" fill="#1d1a1b" stroke="#1d1a1b" stroke-width="0.5" />
<rect x="372.5" y="1162" width="13" height="11.5" rx="0" fill="#1d1a1b" stroke="#1d1a1b" stroke-width="0.5" />
<line x1="376.5" y1="1146" x2="376.5" y2="1152.5" stroke="#fff" stroke-width="1" />
<line x1="376.5" y1="1164.5" x2="376.5" y2="1171" stroke="#fff" stroke-width="1" />
<ellipse cx="362.7" cy="1472.7" rx="9.2" ry="3.5" fill="#1d1a1b" stroke="#1d1a1b" stroke-width="1" />
<polygon points="357,1471 357,1129 367.3,1129 367.3,1471" fill="#fff" stroke="#1d1a1b" stroke-width="2.5" stroke-linejoin="miter" />
<polygon points="550.4,1239.5 979,1171.2 979,1181.8 550.4,1250" fill="#d9d9d9" stroke="#1d1a1b" stroke-width="1.6" stroke-linejoin="miter" />
<polygon points="550.4,1183 979,1115 979,1121 550.4,1189" fill="#fff" stroke="#1d1a1b" stroke-width="2.45" stroke-linejoin="miter" />
<polygon points="550.4,1207 979,1136.4 979,1142.4 550.4,1212.4" fill="#fff" stroke="#1d1a1b" stroke-width="2.45" stroke-linejoin="miter" />
<polygon points="550.4,1229 979,1159 979,1165 550.4,1234" fill="#fff" stroke="#1d1a1b" stroke-width="2.45" stroke-linejoin="miter" />
<polygon points="760.5,1155.7 765,1155 765,1194 760.5,1194.7" fill="#fff" stroke="#1d1a1b" stroke-width="1.5" stroke-linejoin="miter" />
<polygon points="550.4,1207 979,1136.4 979,1142.4 550.4,1212.4" fill="#fff" stroke="#1d1a1b" stroke-width="2.45" stroke-linejoin="miter" />
<ellipse cx="536.5" cy="1534" rx="11" ry="4" fill="#1d1a1b" stroke="#1d1a1b" stroke-width="1" />
<polygon points="530.5,1532 530.5,1159.3 543.3,1159.3 543.3,1532" fill="#fff" stroke="#1d1a1b" stroke-width="2.5" stroke-linejoin="miter" />
<polygon points="543.3,1249 543.3,1171.6 550.4,1171.6 550.4,1249" fill="#fff" stroke="#1d1a1b" stroke-width="1.8" stroke-linejoin="miter" />
<polygon points="543.5,1249.5 550.4,1249.5 550.4,1263 543.5,1263" fill="#e8e8e8" stroke="#1d1a1b" stroke-width="1.1" stroke-linejoin="miter" />
<ellipse cx="991" cy="1458" rx="12" ry="4" fill="#1d1a1b" stroke="#1d1a1b" stroke-width="1" />
<polygon points="984,1456 984,1083 998.3,1083 998.3,1456" fill="#fff" stroke="#1d1a1b" stroke-width="2.5" stroke-linejoin="miter" />
<polygon points="979.3,1178.5 979.3,1099.6 988.3,1099.6 988.3,1178.5" fill="#fff" stroke="#1d1a1b" stroke-width="1.8" stroke-linejoin="miter" />
<polygon points="978,1181.8 983.6,1181.8 983.6,1195.5 980.2,1195.5" fill="#e0e0e0" stroke="#1d1a1b" stroke-width="1.1" stroke-linejoin="miter" />
<polygon points="980.6,1184 983,1184 983,1193.5" fill="#1d1a1b" stroke="#1d1a1b" stroke-width="0.5" stroke-linejoin="miter" />
<rect x="669.6" y="1166" width="31.5" height="31.6" rx="0" fill="#231f20" stroke="none" stroke-width="0" />
<text x="685.5" y="1193.5" font-family="'Liberation Sans', sans-serif" font-size="31" font-weight="bold" text-anchor="middle" fill="#fff" textLength="15" lengthAdjust="spacingAndGlyphs" >7</text>
<rect x="471.7" y="1015" width="66" height="6.8" rx="0" fill="#fff" stroke="#1d1a1b" stroke-width="1.2" />
<path d="M536.2 1004.8 L536.2 1030.3 A10.5 3.2 0 0 0 557.2 1030.3 L557.2 1004.8 A10.5 3.2 0 0 0 536.2 1004.8 Z" fill="#fff" stroke="#1d1a1b" stroke-width="1.3" />
<path d="M536.2 1004.8 A10.5 3.2 0 0 0 557.2 1004.8" fill="none" stroke="#1d1a1b" stroke-width="1.1" />
<path d="M536.2 1013.3 A10.5 3.2 0 0 0 557.2 1013.3" fill="none" stroke="#1d1a1b" stroke-width="1.1" />
<path d="M536.2 1018.3 A10.5 3.2 0 0 0 557.2 1018.3" fill="none" stroke="#1d1a1b" stroke-width="1.1" />
<path d="M537.2 1030.1 A9.5 3.2 0 0 1 556.2 1030.1" fill="none" stroke="#1d1a1b" stroke-width="0.9" />
<polygon points="532.8,1040.2 559.6,1040.2 560.6,1042.7 531.8,1042.7" fill="#fff" stroke="#1d1a1b" stroke-width="1.3" stroke-linejoin="miter" />
<line x1="532.8" y1="1040.1" x2="559.6" y2="1040.1" stroke="#1d1a1b" stroke-width="1.5" />
<line x1="538.2" y1="1042.8" x2="538.2" y2="1056.4" stroke="#1d1a1b" stroke-width="2.0" />
<line x1="554.2" y1="1042.8" x2="554.2" y2="1056.4" stroke="#1d1a1b" stroke-width="2.0" />
<line x1="546.2" y1="1042.8" x2="546.2" y2="1056.4" stroke="#1d1a1b" stroke-width="3.0" />
<path d="M531.2 1045.4 Q535.2 1045.8 537.7 1046.4 L554.7 1046.4 Q557.2 1045.8 561.2 1045.4 Q557.2 1047 554.7 1048 L537.7 1048 Q535.2 1047 531.2 1045.4 Z" fill="#1d1a1b" stroke="#1d1a1b" stroke-width="0.4" />
<path d="M531.2 1050.2 Q535.2 1050.6 537.7 1051.2 L554.7 1051.2 Q557.2 1050.6 561.2 1050.2 Q557.2 1051.8 554.7 1052.8 L537.7 1052.8 Q535.2 1051.8 531.2 1050.2 Z" fill="#1d1a1b" stroke="#1d1a1b" stroke-width="0.4" />
<path d="M531.2 1054.6 Q535.2 1055 537.7 1055.6 L554.7 1055.6 Q557.2 1055 561.2 1054.6 Q557.2 1056.2 554.7 1057.2 L537.7 1057.2 Q535.2 1056.2 531.2 1054.6 Z" fill="#1d1a1b" stroke="#1d1a1b" stroke-width="0.4" />
<ellipse cx="580.8" cy="1048" rx="15.8" ry="11.9" fill="#fff" stroke="#1d1a1b" stroke-width="1.1" />
<text x="580.8" y="1053.5" font-family="'Liberation Sans', sans-serif" font-size="15.4" font-weight="bold" text-anchor="middle" fill="#1d1a1b" textLength="24" lengthAdjust="spacingAndGlyphs"  stroke="#fff" stroke-width="0.15">250</text>
<line x1="546.7" y1="1063" x2="546.7" y2="1157" stroke="#1d1a1b" stroke-width="1.3" />
<polygon points="546.7,1166 543.1,1157 550.3,1157" fill="#1d1a1b" stroke="#1d1a1b" stroke-width="0.5" stroke-linejoin="miter" />
<polygon points="972.6,993.2 999.4,993.2 1000.4,995.7 971.6,995.7" fill="#fff" stroke="#1d1a1b" stroke-width="1.3" stroke-linejoin="miter" />
<line x1="972.6" y1="993.1" x2="999.4" y2="993.1" stroke="#1d1a1b" stroke-width="1.5" />
<line x1="978" y1="995.8" x2="978" y2="1009.4" stroke="#1d1a1b" stroke-width="2.0" />
<line x1="994" y1="995.8" x2="994" y2="1009.4" stroke="#1d1a1b" stroke-width="2.0" />
<line x1="986" y1="995.8" x2="986" y2="1009.4" stroke="#1d1a1b" stroke-width="3.0" />
<path d="M971 998.4 Q975 998.8 977.5 999.4 L994.5 999.4 Q997 998.8 1001 998.4 Q997 1000 994.5 1001 L977.5 1001 Q975 1000 971 998.4 Z" fill="#1d1a1b" stroke="#1d1a1b" stroke-width="0.4" />
<path d="M971 1003.2 Q975 1003.6 977.5 1004.2 L994.5 1004.2 Q997 1003.6 1001 1003.2 Q997 1004.8 994.5 1005.8 L977.5 1005.8 Q975 1004.8 971 1003.2 Z" fill="#1d1a1b" stroke="#1d1a1b" stroke-width="0.4" />
<path d="M971 1007.6 Q975 1008 977.5 1008.6 L994.5 1008.6 Q997 1008 1001 1007.6 Q997 1009.2 994.5 1010.2 L977.5 1010.2 Q975 1009.2 971 1007.6 Z" fill="#1d1a1b" stroke="#1d1a1b" stroke-width="0.4" />
<ellipse cx="1021" cy="1002.3" rx="15.8" ry="11.9" fill="#fff" stroke="#1d1a1b" stroke-width="1.1" />
<text x="1021" y="1007.8" font-family="'Liberation Sans', sans-serif" font-size="15.4" font-weight="bold" text-anchor="middle" fill="#1d1a1b" textLength="24" lengthAdjust="spacingAndGlyphs"  stroke="#fff" stroke-width="0.15">250</text>
<line x1="986" y1="1017.7" x2="986" y2="1088" stroke="#1d1a1b" stroke-width="1.3" />
<polygon points="986,1097 982.4,1088 989.6,1088" fill="#1d1a1b" stroke="#1d1a1b" stroke-width="0.5" stroke-linejoin="miter" />
<g transform="translate(289.5 1159) rotate(-10)">
<rect x="-6.5" y="-6" width="3.5" height="12" rx="0" fill="#1d1a1b" stroke="#1d1a1b" stroke-width="0.5" />
<rect x="-3.5" y="-4.6" width="9.5" height="9.2" rx="0" fill="#1d1a1b" stroke="#1d1a1b" stroke-width="0.5" />
</g>
<g transform="translate(299.5 1179.5) rotate(-10)">
<rect x="-6.5" y="-6" width="3.5" height="12" rx="0" fill="#1d1a1b" stroke="#1d1a1b" stroke-width="0.5" />
<rect x="-3.5" y="-4.6" width="9.5" height="9.2" rx="0" fill="#1d1a1b" stroke="#1d1a1b" stroke-width="0.5" />
</g>
<line x1="303.3" y1="1157.5" x2="339.7" y2="1149.9" stroke="#1d1a1b" stroke-width="1.3" />
<polygon points="347.5,1148.3 340.3,1153.1 339,1146.8" fill="#1d1a1b" stroke="#1d1a1b" stroke-width="0.5" stroke-linejoin="miter" />
<line x1="310" y1="1176.7" x2="346.2" y2="1168.6" stroke="#1d1a1b" stroke-width="1.3" />
<polygon points="354,1166.8 346.9,1171.7 345.5,1165.4" fill="#1d1a1b" stroke="#1d1a1b" stroke-width="0.5" stroke-linejoin="miter" />
<ellipse cx="322.3" cy="1208.5" rx="18" ry="13.3" fill="#fff" stroke="#1d1a1b" stroke-width="1.1" />
<text x="322.3" y="1214.4" font-family="'Liberation Sans', sans-serif" font-size="16.7" font-weight="bold" text-anchor="middle" fill="#1d1a1b" textLength="26.5" lengthAdjust="spacingAndGlyphs"  stroke="#fff" stroke-width="0.15">080</text>
<g transform="translate(481 1210) rotate(172)">
<line x1="0" y1="0" x2="35" y2="0" stroke="#1d1a1b" stroke-width="4.4" />
<rect x="34" y="-3.2" width="5.5" height="6.4" rx="0" fill="#1d1a1b" stroke="#1d1a1b" stroke-width="0.5" />
<ellipse cx="40" cy="0" rx="1.8" ry="3.6" fill="#fff" stroke="#1d1a1b" stroke-width="1.5" />
<path d="M41 -3.5 L68 -4.3 Q72.5 0 68 4.3 L41 3.5 Q39.5 0 41 -3.5 Z" fill="#fff" stroke="#1d1a1b" stroke-width="2" />
</g>
<g transform="translate(483 1237) rotate(172.5)">
<line x1="0" y1="0" x2="35" y2="0" stroke="#1d1a1b" stroke-width="4.4" />
<rect x="34" y="-3.2" width="5.5" height="6.4" rx="0" fill="#1d1a1b" stroke="#1d1a1b" stroke-width="0.5" />
<ellipse cx="40" cy="0" rx="1.8" ry="3.6" fill="#fff" stroke="#1d1a1b" stroke-width="1.5" />
<path d="M41 -3.5 L68 -4.3 Q72.5 0 68 4.3 L41 3.5 Q39.5 0 41 -3.5 Z" fill="#fff" stroke="#1d1a1b" stroke-width="2" />
</g>
<g transform="translate(496.5 1207) rotate(-8)">
<rect x="6.5" y="-3.1" width="16" height="6.2" rx="0" fill="#fff" stroke="#333" stroke-width="0.9" />
<line x1="0.8" y1="-3.2" x2="7.5" y2="-3.2" stroke="#666" stroke-width="0.9" />
<line x1="0.8" y1="-1.1" x2="7.5" y2="-1.1" stroke="#666" stroke-width="0.9" />
<line x1="0.8" y1="1.1" x2="7.5" y2="1.1" stroke="#666" stroke-width="0.9" />
<line x1="0.8" y1="3.2" x2="7.5" y2="3.2" stroke="#666" stroke-width="0.9" />
<path d="M0 -7.2 Q-7.5 -5.4 -8 0 Q-7.5 5.4 0 7.2 Z" fill="#fff" stroke="#1d1a1b" stroke-width="1.1" />
</g>
<g transform="translate(496.5 1235.5) rotate(-8)">
<rect x="6.5" y="-3.1" width="16" height="6.2" rx="0" fill="#fff" stroke="#333" stroke-width="0.9" />
<line x1="0.8" y1="-3.2" x2="7.5" y2="-3.2" stroke="#666" stroke-width="0.9" />
<line x1="0.8" y1="-1.1" x2="7.5" y2="-1.1" stroke="#666" stroke-width="0.9" />
<line x1="0.8" y1="1.1" x2="7.5" y2="1.1" stroke="#666" stroke-width="0.9" />
<line x1="0.8" y1="3.2" x2="7.5" y2="3.2" stroke="#666" stroke-width="0.9" />
<path d="M0 -7.2 Q-7.5 -5.4 -8 0 Q-7.5 5.4 0 7.2 Z" fill="#fff" stroke="#1d1a1b" stroke-width="1.1" />
</g>
<line x1="520" y1="1203.5" x2="600" y2="1194" stroke="#333" stroke-width="1.0" stroke-dasharray="2.2 2.2"/>
<line x1="520" y1="1231.5" x2="600" y2="1221.5" stroke="#333" stroke-width="1.0" stroke-dasharray="2.2 2.2"/>
<ellipse cx="477" cy="1223" rx="12.2" ry="8.3" fill="#fff" stroke="#1d1a1b" stroke-width="1.1" />
<text x="477" y="1226.7" font-family="'Liberation Sans', sans-serif" font-size="10.5" font-weight="bold" text-anchor="middle" fill="#1d1a1b" textLength="18" lengthAdjust="spacingAndGlyphs" >801</text>
<ellipse cx="608" cy="1205" rx="12" ry="8.8" fill="#fff" stroke="#1d1a1b" stroke-width="1.1" />
<text x="608" y="1208.7" font-family="'Liberation Sans', sans-serif" font-size="10.5" font-weight="bold" text-anchor="middle" fill="#1d1a1b" textLength="18" lengthAdjust="spacingAndGlyphs" >802</text>
<line x1="553" y1="1197" x2="578" y2="1193.3" stroke="#777" stroke-width="3.4" />
<line x1="553" y1="1225.5" x2="578" y2="1222" stroke="#777" stroke-width="3.4" />
<path d="M579 1189 l4.5 3 l-3.2 5 Z" fill="#fff" stroke="#1d1a1b" stroke-width="0.9" />
<path d="M579 1217.5 l4.5 3 l-3.2 5 Z" fill="#fff" stroke="#1d1a1b" stroke-width="0.9" />
<g transform="translate(519 1249) rotate(12) scale(1.0)">
<circle cx="-3.1" cy="-0.6" r="3.4" fill="#1d1a1b"/>
<circle cx="-3.3" cy="-0.8" r="1.0" fill="#9a9a9a"/>
<rect x="-1.4" y="-5.6" width="6.6" height="11.6" rx="0" fill="#1d1a1b" stroke="#1d1a1b" stroke-width="0.6" />
<rect x="1.7" y="-2.6" width="1.7" height="3.3" rx="0" fill="#fff" stroke="none" stroke-width="0" />
<rect x="0.5" y="2.4" width="2.5" height="1.2" rx="0" fill="#fff" stroke="none" stroke-width="0" />
<line x1="0.8" y1="6" x2="0.6" y2="9.4" stroke="#1d1a1b" stroke-width="1.1" />
</g>
<line x1="524" y1="1250" x2="562" y2="1262" stroke="#333" stroke-width="1.0" stroke-dasharray="2.2 2.2"/>
<g transform="translate(578 1266.6) rotate(17)">
<line x1="-12.5" y1="0" x2="-1.5" y2="0" stroke="#2a2a2a" stroke-width="4.2" />
<path d="M-1.8 -5.6 L-0.5 -5.6 Q5.5 0 -0.5 5.6 L-1.8 5.6 Z" fill="#fff" stroke="#1d1a1b" stroke-width="1.1" />
</g>
<g transform="translate(583.5 1267) rotate(16.3)">
<line x1="0" y1="0" x2="34" y2="0" stroke="#1d1a1b" stroke-width="4.4" />
<rect x="33" y="-3.2" width="5.5" height="6.4" rx="0" fill="#1d1a1b" stroke="#1d1a1b" stroke-width="0.5" />
<ellipse cx="39" cy="0" rx="1.8" ry="3.6" fill="#fff" stroke="#1d1a1b" stroke-width="1.5" />
<path d="M40 -3.7 L78 -4.5 Q82.5 0 78 4.5 L40 3.7 Q38.5 0 40 -3.7 Z" fill="#fff" stroke="#1d1a1b" stroke-width="2" />
</g>
<ellipse cx="628.2" cy="1308.6" rx="18" ry="13.3" fill="#fff" stroke="#1d1a1b" stroke-width="1.1" />
<text x="628.2" y="1314.5" font-family="'Liberation Sans', sans-serif" font-size="16.7" font-weight="bold" text-anchor="middle" fill="#1d1a1b" textLength="26.5" lengthAdjust="spacingAndGlyphs"  stroke="#fff" stroke-width="0.15">201</text>
<line x1="651.3" y1="1308.6" x2="665.7" y2="1308.6" stroke="#1d1a1b" stroke-width="3" />
<line x1="658.5" y1="1301.4" x2="658.5" y2="1315.8" stroke="#1d1a1b" stroke-width="3" />
<ellipse cx="687" cy="1308.6" rx="18" ry="13.3" fill="#fff" stroke="#1d1a1b" stroke-width="1.1" />
<text x="687" y="1314.5" font-family="'Liberation Sans', sans-serif" font-size="16.7" font-weight="bold" text-anchor="middle" fill="#1d1a1b" textLength="26.5" lengthAdjust="spacingAndGlyphs"  stroke="#fff" stroke-width="0.15">102</text>
<g transform="translate(0 2631.6) scale(1 -1)">
<polygon points="559.1,1307.7 585.9,1307.7 586.9,1310.2 558.1,1310.2" fill="#a8a8a8" stroke="#1d1a1b" stroke-width="1.3" stroke-linejoin="miter" />
<line x1="559.1" y1="1307.6" x2="585.9" y2="1307.6" stroke="#1d1a1b" stroke-width="1.5" />
<line x1="564.5" y1="1310.3" x2="564.5" y2="1323.9" stroke="#1d1a1b" stroke-width="2.0" />
<line x1="580.5" y1="1310.3" x2="580.5" y2="1323.9" stroke="#1d1a1b" stroke-width="2.0" />
<line x1="572.5" y1="1310.3" x2="572.5" y2="1323.9" stroke="#1d1a1b" stroke-width="3.0" />
<path d="M557.5 1312.9 Q561.5 1313.3 564 1313.9 L581 1313.9 Q583.5 1313.3 587.5 1312.9 Q583.5 1314.5 581 1315.5 L564 1315.5 Q561.5 1314.5 557.5 1312.9 Z" fill="#1d1a1b" stroke="#1d1a1b" stroke-width="0.4" />
<path d="M557.5 1317.7 Q561.5 1318.1 564 1318.7 L581 1318.7 Q583.5 1318.1 587.5 1317.7 Q583.5 1319.3 581 1320.3 L564 1320.3 Q561.5 1319.3 557.5 1317.7 Z" fill="#1d1a1b" stroke="#1d1a1b" stroke-width="0.4" />
<path d="M557.5 1322.1 Q561.5 1322.5 564 1323.1 L581 1323.1 Q583.5 1322.5 587.5 1322.1 Q583.5 1323.7 581 1324.7 L564 1324.7 Q561.5 1323.7 557.5 1322.1 Z" fill="#1d1a1b" stroke="#1d1a1b" stroke-width="0.4" />
</g>
<ellipse cx="571.8" cy="1340" rx="15.8" ry="11.9" fill="#fff" stroke="#1d1a1b" stroke-width="1.1" />
<text x="571.8" y="1345.5" font-family="'Liberation Sans', sans-serif" font-size="15.4" font-weight="bold" text-anchor="middle" fill="#1d1a1b" textLength="24" lengthAdjust="spacingAndGlyphs"  stroke="#fff" stroke-width="0.15">250</text>
<line x1="569.2" y1="1303" x2="553.1" y2="1271.1" stroke="#1d1a1b" stroke-width="1.3" />
<polygon points="549.5,1264 556,1269.7 550.3,1272.6" fill="#1d1a1b" stroke="#1d1a1b" stroke-width="0.5" stroke-linejoin="miter" />
<g transform="translate(504.3 1448) rotate(12) scale(1.0)">
<circle cx="-3.1" cy="-0.6" r="3.4" fill="#1d1a1b"/>
<circle cx="-3.3" cy="-0.8" r="1.0" fill="#9a9a9a"/>
<rect x="-1.4" y="-5.6" width="6.6" height="11.6" rx="0" fill="#1d1a1b" stroke="#1d1a1b" stroke-width="0.6" />
<rect x="1.7" y="-2.6" width="1.7" height="3.3" rx="0" fill="#fff" stroke="none" stroke-width="0" />
<rect x="0.5" y="2.4" width="2.5" height="1.2" rx="0" fill="#fff" stroke="none" stroke-width="0" />
<line x1="0.8" y1="6" x2="0.6" y2="9.4" stroke="#1d1a1b" stroke-width="1.1" />
</g>
<line x1="509" y1="1450.5" x2="562" y2="1465.5" stroke="#333" stroke-width="1.0" stroke-dasharray="2.2 2.2"/>
<g transform="translate(577 1470) rotate(16)">
<line x1="-13.5" y1="0" x2="-1.5" y2="0" stroke="#2a2a2a" stroke-width="4.2" />
<path d="M-1.8 -5.6 L-0.5 -5.6 Q5.5 0 -0.5 5.6 L-1.8 5.6 Z" fill="#fff" stroke="#1d1a1b" stroke-width="1.1" />
</g>
<g transform="translate(582 1470.5) rotate(15.5)">
<line x1="0" y1="0" x2="37" y2="0" stroke="#1d1a1b" stroke-width="4.4" />
<rect x="36" y="-3.2" width="5.5" height="6.4" rx="0" fill="#1d1a1b" stroke="#1d1a1b" stroke-width="0.5" />
<ellipse cx="42" cy="0" rx="1.8" ry="3.6" fill="#fff" stroke="#1d1a1b" stroke-width="1.5" />
<path d="M43 -3.7 L84 -4.5 Q88.5 0 84 4.5 L43 3.7 Q41.5 0 43 -3.7 Z" fill="#fff" stroke="#1d1a1b" stroke-width="2" />
</g>
<ellipse cx="582.6" cy="1515" rx="18" ry="13.3" fill="#fff" stroke="#1d1a1b" stroke-width="1.1" />
<text x="582.6" y="1520.9" font-family="'Liberation Sans', sans-serif" font-size="16.7" font-weight="bold" text-anchor="middle" fill="#1d1a1b" textLength="26.5" lengthAdjust="spacingAndGlyphs"  stroke="#fff" stroke-width="0.15">201</text>
<line x1="605" y1="1515" x2="619.4" y2="1515" stroke="#1d1a1b" stroke-width="3" />
<line x1="612.2" y1="1507.8" x2="612.2" y2="1522.2" stroke="#1d1a1b" stroke-width="3" />
<ellipse cx="640.8" cy="1515" rx="18" ry="13.3" fill="#fff" stroke="#1d1a1b" stroke-width="1.1" />
<text x="640.8" y="1520.9" font-family="'Liberation Sans', sans-serif" font-size="16.7" font-weight="bold" text-anchor="middle" fill="#1d1a1b" textLength="26.5" lengthAdjust="spacingAndGlyphs"  stroke="#fff" stroke-width="0.15">102</text>
<ellipse cx="1033.6" cy="1095" rx="16.3" ry="12.3" fill="#fff" stroke="#1d1a1b" stroke-width="1.1" />
<text x="1033.6" y="1100.1" font-family="'Liberation Sans', sans-serif" font-size="14.5" font-weight="bold" text-anchor="middle" fill="#1d1a1b" textLength="23.5" lengthAdjust="spacingAndGlyphs"  stroke="#fff" stroke-width="0.15">801</text>
<ellipse cx="918.3" cy="1139.8" rx="15.5" ry="11.6" fill="#fff" stroke="#1d1a1b" stroke-width="1.1" />
<text x="918.3" y="1144.9" font-family="'Liberation Sans', sans-serif" font-size="14.5" font-weight="bold" text-anchor="middle" fill="#1d1a1b" textLength="23.5" lengthAdjust="spacingAndGlyphs"  stroke="#fff" stroke-width="0.15">802</text>
<g transform="translate(1018 1109.5) rotate(170.5)">
<rect x="6.5" y="-3.1" width="16" height="6.2" rx="0" fill="#fff" stroke="#333" stroke-width="0.9" />
<line x1="0.8" y1="-3.2" x2="7.5" y2="-3.2" stroke="#666" stroke-width="0.9" />
<line x1="0.8" y1="-1.1" x2="7.5" y2="-1.1" stroke="#666" stroke-width="0.9" />
<line x1="0.8" y1="1.1" x2="7.5" y2="1.1" stroke="#666" stroke-width="0.9" />
<line x1="0.8" y1="3.2" x2="7.5" y2="3.2" stroke="#666" stroke-width="0.9" />
<path d="M0 -7.2 Q-7.5 -5.4 -8 0 Q-7.5 5.4 0 7.2 Z" fill="#fff" stroke="#1d1a1b" stroke-width="1.1" />
</g>
<g transform="translate(1018 1137) rotate(170.5)">
<rect x="6.5" y="-3.1" width="16" height="6.2" rx="0" fill="#fff" stroke="#333" stroke-width="0.9" />
<line x1="0.8" y1="-3.2" x2="7.5" y2="-3.2" stroke="#666" stroke-width="0.9" />
<line x1="0.8" y1="-1.1" x2="7.5" y2="-1.1" stroke="#666" stroke-width="0.9" />
<line x1="0.8" y1="1.1" x2="7.5" y2="1.1" stroke="#666" stroke-width="0.9" />
<line x1="0.8" y1="3.2" x2="7.5" y2="3.2" stroke="#666" stroke-width="0.9" />
<path d="M0 -7.2 Q-7.5 -5.4 -8 0 Q-7.5 5.4 0 7.2 Z" fill="#fff" stroke="#1d1a1b" stroke-width="1.1" />
</g>
<line x1="988" y1="1117.5" x2="996" y2="1116" stroke="#333" stroke-width="1.0" stroke-dasharray="2.2 2.2"/>
<line x1="988" y1="1145.5" x2="996" y2="1144" stroke="#333" stroke-width="1.0" stroke-dasharray="2.2 2.2"/>
<g transform="translate(1027.5 1111) rotate(-9.3)">
<line x1="0" y1="0" x2="33" y2="0" stroke="#1d1a1b" stroke-width="4.4" />
<rect x="32" y="-3.2" width="5.5" height="6.4" rx="0" fill="#1d1a1b" stroke="#1d1a1b" stroke-width="0.5" />
<ellipse cx="38" cy="0" rx="1.8" ry="3.6" fill="#fff" stroke="#1d1a1b" stroke-width="1.5" />
<path d="M39 -3.5 L66 -4.2 Q70.5 0 66 4.2 L39 3.5 Q37.5 0 39 -3.5 Z" fill="#fff" stroke="#1d1a1b" stroke-width="2" />
</g>
<g transform="translate(1027.5 1138.3) rotate(-9.8)">
<line x1="0" y1="0" x2="33" y2="0" stroke="#1d1a1b" stroke-width="4.4" />
<rect x="32" y="-3.2" width="5.5" height="6.4" rx="0" fill="#1d1a1b" stroke="#1d1a1b" stroke-width="0.5" />
<ellipse cx="38" cy="0" rx="1.8" ry="3.6" fill="#fff" stroke="#1d1a1b" stroke-width="1.5" />
<path d="M39 -3.5 L66 -4.2 Q70.5 0 66 4.2 L39 3.5 Q37.5 0 39 -3.5 Z" fill="#fff" stroke="#1d1a1b" stroke-width="2" />
</g>
<line x1="941" y1="1123" x2="966" y2="1119.2" stroke="#666" stroke-width="3.2" />
<path d="M940.5 1118 l-4.5 3.5 l3.2 5 Z" fill="#fff" stroke="#1d1a1b" stroke-width="0.9" />
<line x1="932" y1="1152" x2="964" y2="1147.3" stroke="#666" stroke-width="3.2" />
<path d="M931.5 1147 l-4.5 3.5 l3.2 5 Z" fill="#fff" stroke="#1d1a1b" stroke-width="0.9" />
<g transform="translate(943.7 1177) rotate(12) scale(1.0)">
<circle cx="-3.1" cy="-0.6" r="3.4" fill="#1d1a1b"/>
<circle cx="-3.3" cy="-0.8" r="1.0" fill="#9a9a9a"/>
<rect x="-1.4" y="-5.6" width="6.6" height="11.6" rx="0" fill="#1d1a1b" stroke="#1d1a1b" stroke-width="0.6" />
<rect x="1.7" y="-2.6" width="1.7" height="3.3" rx="0" fill="#fff" stroke="none" stroke-width="0" />
<rect x="0.5" y="2.4" width="2.5" height="1.2" rx="0" fill="#fff" stroke="none" stroke-width="0" />
<line x1="0.8" y1="6" x2="0.6" y2="9.4" stroke="#1d1a1b" stroke-width="1.1" />
</g>
<line x1="947" y1="1180" x2="1004" y2="1194.5" stroke="#333" stroke-width="1.0" stroke-dasharray="2.2 2.2"/>
<g transform="translate(1009.5 1195.6) rotate(16)">
<line x1="-10.5" y1="0" x2="-1.5" y2="0" stroke="#2a2a2a" stroke-width="4.2" />
<path d="M-1.8 -5.6 L-0.5 -5.6 Q5.5 0 -0.5 5.6 L-1.8 5.6 Z" fill="#fff" stroke="#1d1a1b" stroke-width="1.1" />
</g>
<g transform="translate(1014.7 1197) rotate(15.2)">
<line x1="0" y1="0" x2="34" y2="0" stroke="#1d1a1b" stroke-width="4.4" />
<rect x="33" y="-3.2" width="5.5" height="6.4" rx="0" fill="#1d1a1b" stroke="#1d1a1b" stroke-width="0.5" />
<ellipse cx="39" cy="0" rx="1.8" ry="3.6" fill="#fff" stroke="#1d1a1b" stroke-width="1.5" />
<path d="M40 -3.7 L78 -4.5 Q82.5 0 78 4.5 L40 3.7 Q38.5 0 40 -3.7 Z" fill="#fff" stroke="#1d1a1b" stroke-width="2" />
</g>
<ellipse cx="1028.6" cy="1238.2" rx="18" ry="13.3" fill="#fff" stroke="#1d1a1b" stroke-width="1.1" />
<text x="1028.6" y="1244.1" font-family="'Liberation Sans', sans-serif" font-size="16.7" font-weight="bold" text-anchor="middle" fill="#1d1a1b" textLength="26.5" lengthAdjust="spacingAndGlyphs"  stroke="#fff" stroke-width="0.15">201</text>
<line x1="1051.5" y1="1238.2" x2="1065.9" y2="1238.2" stroke="#1d1a1b" stroke-width="3" />
<line x1="1058.7" y1="1231" x2="1058.7" y2="1245.4" stroke="#1d1a1b" stroke-width="3" />
<ellipse cx="1087.3" cy="1238.2" rx="18" ry="13.3" fill="#fff" stroke="#1d1a1b" stroke-width="1.1" />
<text x="1087.3" y="1244.1" font-family="'Liberation Sans', sans-serif" font-size="16.7" font-weight="bold" text-anchor="middle" fill="#1d1a1b" textLength="26.5" lengthAdjust="spacingAndGlyphs"  stroke="#fff" stroke-width="0.15">102</text>
<g transform="translate(0 2491) scale(1 -1)">
<polygon points="947,1237.4 973.8,1237.4 974.8,1239.9 946,1239.9" fill="#a8a8a8" stroke="#1d1a1b" stroke-width="1.3" stroke-linejoin="miter" />
<line x1="947" y1="1237.3" x2="973.8" y2="1237.3" stroke="#1d1a1b" stroke-width="1.5" />
<line x1="952.4" y1="1240" x2="952.4" y2="1253.6" stroke="#1d1a1b" stroke-width="2.0" />
<line x1="968.4" y1="1240" x2="968.4" y2="1253.6" stroke="#1d1a1b" stroke-width="2.0" />
<line x1="960.4" y1="1240" x2="960.4" y2="1253.6" stroke="#1d1a1b" stroke-width="3.0" />
<path d="M945.4 1242.6 Q949.4 1243 951.9 1243.6 L968.9 1243.6 Q971.4 1243 975.4 1242.6 Q971.4 1244.2 968.9 1245.2 L951.9 1245.2 Q949.4 1244.2 945.4 1242.6 Z" fill="#1d1a1b" stroke="#1d1a1b" stroke-width="0.4" />
<path d="M945.4 1247.4 Q949.4 1247.8 951.9 1248.4 L968.9 1248.4 Q971.4 1247.8 975.4 1247.4 Q971.4 1249 968.9 1250 L951.9 1250 Q949.4 1249 945.4 1247.4 Z" fill="#1d1a1b" stroke="#1d1a1b" stroke-width="0.4" />
<path d="M945.4 1251.8 Q949.4 1252.2 951.9 1252.8 L968.9 1252.8 Q971.4 1252.2 975.4 1251.8 Q971.4 1253.4 968.9 1254.4 L951.9 1254.4 Q949.4 1253.4 945.4 1251.8 Z" fill="#1d1a1b" stroke="#1d1a1b" stroke-width="0.4" />
</g>
<ellipse cx="960.4" cy="1270" rx="15.8" ry="11.9" fill="#fff" stroke="#1d1a1b" stroke-width="1.1" />
<text x="960.4" y="1275.5" font-family="'Liberation Sans', sans-serif" font-size="15.4" font-weight="bold" text-anchor="middle" fill="#1d1a1b" textLength="24" lengthAdjust="spacingAndGlyphs"  stroke="#fff" stroke-width="0.15">250</text>
<line x1="962.2" y1="1234" x2="979" y2="1189.5" stroke="#1d1a1b" stroke-width="1.3" />
<polygon points="981.8,1182 982,1190.6 976,1188.4" fill="#1d1a1b" stroke="#1d1a1b" stroke-width="0.5" stroke-linejoin="miter" />
<g transform="translate(964.5 1385) rotate(12) scale(1.0)">
<circle cx="-3.1" cy="-0.6" r="3.4" fill="#1d1a1b"/>
<circle cx="-3.3" cy="-0.8" r="1.0" fill="#9a9a9a"/>
<rect x="-1.4" y="-5.6" width="6.6" height="11.6" rx="0" fill="#1d1a1b" stroke="#1d1a1b" stroke-width="0.6" />
<rect x="1.7" y="-2.6" width="1.7" height="3.3" rx="0" fill="#fff" stroke="none" stroke-width="0" />
<rect x="0.5" y="2.4" width="2.5" height="1.2" rx="0" fill="#fff" stroke="none" stroke-width="0" />
<line x1="0.8" y1="6" x2="0.6" y2="9.4" stroke="#1d1a1b" stroke-width="1.1" />
</g>
<line x1="970" y1="1386.5" x2="1020" y2="1396.5" stroke="#333" stroke-width="1.0" stroke-dasharray="2.2 2.2"/>
<g transform="translate(1033 1398.8) rotate(15)">
<line x1="-11.5" y1="0" x2="-1.5" y2="0" stroke="#2a2a2a" stroke-width="4.2" />
<path d="M-1.8 -5.6 L-0.5 -5.6 Q5.5 0 -0.5 5.6 L-1.8 5.6 Z" fill="#fff" stroke="#1d1a1b" stroke-width="1.1" />
</g>
<g transform="translate(1037.5 1399.3) rotate(14)">
<line x1="0" y1="0" x2="37" y2="0" stroke="#1d1a1b" stroke-width="4.4" />
<rect x="36" y="-3.2" width="5.5" height="6.4" rx="0" fill="#1d1a1b" stroke="#1d1a1b" stroke-width="0.5" />
<ellipse cx="42" cy="0" rx="1.8" ry="3.6" fill="#fff" stroke="#1d1a1b" stroke-width="1.5" />
<path d="M43 -3.7 L84 -4.5 Q88.5 0 84 4.5 L43 3.7 Q41.5 0 43 -3.7 Z" fill="#fff" stroke="#1d1a1b" stroke-width="2" />
</g>
<ellipse cx="1001" cy="1490.3" rx="18" ry="13.3" fill="#fff" stroke="#1d1a1b" stroke-width="1.1" />
<text x="1001" y="1496.2" font-family="'Liberation Sans', sans-serif" font-size="16.7" font-weight="bold" text-anchor="middle" fill="#1d1a1b" textLength="26.5" lengthAdjust="spacingAndGlyphs"  stroke="#fff" stroke-width="0.15">201</text>
<line x1="1023.2" y1="1490.3" x2="1037.6" y2="1490.3" stroke="#1d1a1b" stroke-width="3" />
<line x1="1030.4" y1="1483.1" x2="1030.4" y2="1497.5" stroke="#1d1a1b" stroke-width="3" />
<ellipse cx="1059" cy="1490.3" rx="18" ry="13.3" fill="#fff" stroke="#1d1a1b" stroke-width="1.1" />
<text x="1059" y="1496.2" font-family="'Liberation Sans', sans-serif" font-size="16.7" font-weight="bold" text-anchor="middle" fill="#1d1a1b" textLength="26.5" lengthAdjust="spacingAndGlyphs"  stroke="#fff" stroke-width="0.15">102</text>
</svg>
</body></html>
